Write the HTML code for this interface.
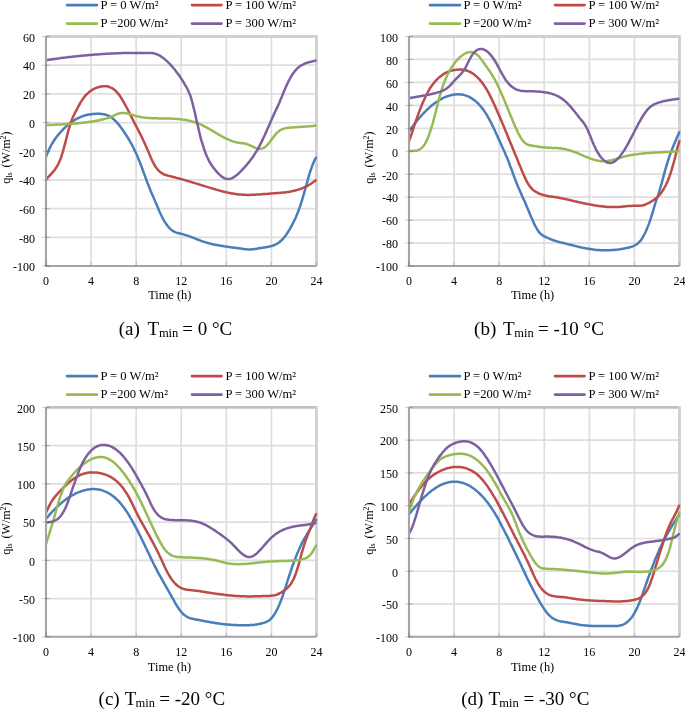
<!DOCTYPE html><html><head><meta charset="utf-8"><style>html,body{margin:0;padding:0;background:#fff;}svg{display:block;will-change:transform;}</style></head><body>
<svg width="685" height="709" viewBox="0 0 685 709" font-family='"Liberation Serif", serif'>
<line x1="46.00" y1="65.19" x2="316.50" y2="65.19" stroke="#dedede" stroke-width="1.7"/>
<line x1="46.00" y1="93.88" x2="316.50" y2="93.88" stroke="#dedede" stroke-width="1.7"/>
<line x1="46.00" y1="122.56" x2="316.50" y2="122.56" stroke="#dedede" stroke-width="1.7"/>
<line x1="46.00" y1="151.25" x2="316.50" y2="151.25" stroke="#dedede" stroke-width="1.7"/>
<line x1="46.00" y1="179.94" x2="316.50" y2="179.94" stroke="#dedede" stroke-width="1.7"/>
<line x1="46.00" y1="208.62" x2="316.50" y2="208.62" stroke="#dedede" stroke-width="1.7"/>
<line x1="46.00" y1="237.31" x2="316.50" y2="237.31" stroke="#dedede" stroke-width="1.7"/>
<line x1="91.08" y1="36.50" x2="91.08" y2="266.00" stroke="#dedede" stroke-width="1.7"/>
<line x1="136.17" y1="36.50" x2="136.17" y2="266.00" stroke="#dedede" stroke-width="1.7"/>
<line x1="181.25" y1="36.50" x2="181.25" y2="266.00" stroke="#dedede" stroke-width="1.7"/>
<line x1="226.33" y1="36.50" x2="226.33" y2="266.00" stroke="#dedede" stroke-width="1.7"/>
<line x1="271.42" y1="36.50" x2="271.42" y2="266.00" stroke="#dedede" stroke-width="1.7"/>
<path d="M46.00,36.50 H316.50" fill="none" stroke="#d0d0d0" stroke-width="2.8"/>
<path d="M316.50,35.10 V266.00" fill="none" stroke="#d0d0d0" stroke-width="2.8"/>
<path d="M46.0,157.0 47.1,154.0 48.3,151.3 49.4,148.8 50.5,146.5 51.6,144.4 52.8,142.5 53.9,140.7 55.0,139.0 56.1,137.5 57.3,136.0 58.4,134.6 59.5,133.3 60.7,132.0 61.8,130.8 62.9,129.6 64.0,128.5 65.2,127.4 66.3,126.3 67.4,125.3 68.5,124.4 69.7,123.4 70.8,122.6 71.9,121.8 73.0,121.0 74.2,120.2 75.3,119.6 76.4,118.9 77.6,118.3 78.7,117.8 79.8,117.3 80.9,116.8 82.1,116.4 83.2,116.0 84.3,115.6 85.4,115.3 86.6,115.0 87.7,114.8 88.8,114.6 90.0,114.4 91.1,114.2 92.2,114.1 93.3,114.0 94.5,113.9 95.6,113.8 96.7,113.8 97.8,113.8 99.0,113.8 100.1,113.8 101.2,113.9 102.4,114.0 103.5,114.2 104.6,114.4 105.7,114.7 106.9,115.1 108.0,115.5 109.1,116.1 110.2,116.7 111.4,117.5 112.5,118.3 113.6,119.2 114.8,120.3 115.9,121.4 117.0,122.6 118.1,123.9 119.3,125.3 120.4,126.8 121.5,128.3 122.6,129.8 123.8,131.5 124.9,133.2 126.0,134.9 127.2,136.7 128.3,138.5 129.4,140.4 130.5,142.4 131.7,144.4 132.8,146.5 133.9,148.8 135.0,151.1 136.2,153.5 137.3,156.1 138.4,158.7 139.5,161.5 140.7,164.4 141.8,167.4 142.9,170.5 144.1,173.6 145.2,176.7 146.3,179.7 147.4,182.7 148.6,185.6 149.7,188.4 150.8,191.2 151.9,193.8 153.1,196.4 154.2,199.1 155.3,201.7 156.5,204.3 157.6,207.0 158.7,209.7 159.8,212.3 161.0,214.7 162.1,217.0 163.2,219.2 164.3,221.1 165.5,222.9 166.6,224.6 167.7,226.0 168.9,227.4 170.0,228.6 171.1,229.6 172.2,230.5 173.4,231.2 174.5,231.8 175.6,232.3 176.7,232.7 177.9,233.0 179.0,233.3 180.1,233.6 181.2,233.8 182.4,234.1 183.5,234.4 184.6,234.7 185.8,235.1 186.9,235.4 188.0,235.8 189.1,236.2 190.3,236.6 191.4,237.1 192.5,237.5 193.6,237.9 194.8,238.4 195.9,238.8 197.0,239.3 198.2,239.7 199.3,240.1 200.4,240.6 201.5,241.0 202.7,241.4 203.8,241.8 204.9,242.1 206.0,242.5 207.2,242.8 208.3,243.1 209.4,243.4 210.6,243.7 211.7,244.0 212.8,244.2 213.9,244.5 215.1,244.7 216.2,244.9 217.3,245.1 218.4,245.3 219.6,245.5 220.7,245.7 221.8,245.9 223.0,246.1 224.1,246.3 225.2,246.4 226.3,246.6 227.5,246.8 228.6,246.9 229.7,247.1 230.8,247.2 232.0,247.4 233.1,247.5 234.2,247.7 235.4,247.8 236.5,248.0 237.6,248.1 238.7,248.3 239.9,248.5 241.0,248.6 242.1,248.8 243.2,249.0 244.4,249.1 245.5,249.2 246.6,249.3 247.7,249.4 248.9,249.4 250.0,249.4 251.1,249.4 252.3,249.3 253.4,249.2 254.5,249.0 255.6,248.9 256.8,248.7 257.9,248.5 259.0,248.3 260.1,248.1 261.3,247.9 262.4,247.8 263.5,247.6 264.7,247.4 265.8,247.3 266.9,247.1 268.0,246.9 269.2,246.6 270.3,246.3 271.4,246.0 272.5,245.7 273.7,245.3 274.8,244.8 275.9,244.3 277.1,243.7 278.2,243.0 279.3,242.2 280.4,241.3 281.6,240.3 282.7,239.2 283.8,237.9 284.9,236.5 286.1,234.9 287.2,233.3 288.3,231.5 289.5,229.6 290.6,227.6 291.7,225.6 292.8,223.5 294.0,221.2 295.1,218.9 296.2,216.4 297.3,213.7 298.5,210.8 299.6,207.7 300.7,204.4 301.8,200.8 303.0,197.0 304.1,193.1 305.2,189.0 306.4,185.0 307.5,180.9 308.6,177.0 309.7,173.2 310.9,169.7 312.0,166.4 313.1,163.5 314.2,160.9 315.4,158.7 316.5,157.0" fill="none" stroke="#4A7EBB" stroke-width="2.5" stroke-linejoin="round" stroke-linecap="butt"/>
<path d="M46.0,179.7 47.1,178.2 48.3,177.0 49.4,175.8 50.5,174.6 51.6,173.5 52.8,172.2 53.9,170.9 55.0,169.5 56.1,167.8 57.3,165.9 58.4,163.8 59.5,161.3 60.7,158.4 61.8,155.1 62.9,151.5 64.0,147.5 65.2,143.2 66.3,138.7 67.4,134.2 68.5,130.1 69.7,126.3 70.8,122.8 71.9,119.6 73.0,116.9 74.2,114.5 75.3,112.3 76.4,110.1 77.6,108.0 78.7,105.8 79.8,103.8 80.9,101.9 82.1,100.1 83.2,98.4 84.3,96.9 85.4,95.6 86.6,94.4 87.7,93.3 88.8,92.3 90.0,91.4 91.1,90.6 92.2,89.9 93.3,89.2 94.5,88.7 95.6,88.2 96.7,87.7 97.8,87.4 99.0,87.0 100.1,86.7 101.2,86.5 102.4,86.3 103.5,86.2 104.6,86.2 105.7,86.2 106.9,86.3 108.0,86.5 109.1,86.8 110.2,87.3 111.4,87.8 112.5,88.4 113.6,89.2 114.8,90.1 115.9,91.1 117.0,92.3 118.1,93.6 119.3,95.1 120.4,96.7 121.5,98.5 122.6,100.3 123.8,102.3 124.9,104.3 126.0,106.4 127.2,108.5 128.3,110.7 129.4,112.9 130.5,115.1 131.7,117.4 132.8,119.6 133.9,121.8 135.0,123.9 136.2,126.1 137.3,128.3 138.4,130.5 139.5,132.7 140.7,134.9 141.8,137.2 142.9,139.6 144.1,142.0 145.2,144.4 146.3,146.9 147.4,149.5 148.6,152.1 149.7,154.8 150.8,157.5 151.9,160.0 153.1,162.4 154.2,164.5 155.3,166.4 156.5,168.0 157.6,169.4 158.7,170.7 159.8,171.7 161.0,172.6 162.1,173.3 163.2,174.0 164.3,174.5 165.5,174.9 166.6,175.3 167.7,175.6 168.9,175.9 170.0,176.1 171.1,176.4 172.2,176.7 173.4,177.0 174.5,177.3 175.6,177.6 176.7,177.9 177.9,178.2 179.0,178.5 180.1,178.8 181.2,179.1 182.4,179.4 183.5,179.7 184.6,180.1 185.8,180.4 186.9,180.7 188.0,181.0 189.1,181.4 190.3,181.7 191.4,182.0 192.5,182.4 193.6,182.7 194.8,183.1 195.9,183.4 197.0,183.8 198.2,184.1 199.3,184.5 200.4,184.8 201.5,185.2 202.7,185.5 203.8,185.9 204.9,186.2 206.0,186.6 207.2,186.9 208.3,187.2 209.4,187.6 210.6,187.9 211.7,188.3 212.8,188.6 213.9,189.0 215.1,189.3 216.2,189.6 217.3,189.9 218.4,190.3 219.6,190.6 220.7,190.9 221.8,191.2 223.0,191.5 224.1,191.7 225.2,192.0 226.3,192.3 227.5,192.5 228.6,192.8 229.7,193.0 230.8,193.2 232.0,193.5 233.1,193.6 234.2,193.8 235.4,194.0 236.5,194.2 237.6,194.3 238.7,194.4 239.9,194.5 241.0,194.6 242.1,194.7 243.2,194.8 244.4,194.8 245.5,194.8 246.6,194.9 247.7,194.9 248.9,194.9 250.0,194.9 251.1,194.8 252.3,194.8 253.4,194.8 254.5,194.7 255.6,194.7 256.8,194.6 257.9,194.5 259.0,194.5 260.1,194.4 261.3,194.3 262.4,194.2 263.5,194.1 264.7,194.1 265.8,194.0 266.9,193.9 268.0,193.8 269.2,193.7 270.3,193.6 271.4,193.5 272.5,193.4 273.7,193.3 274.8,193.3 275.9,193.2 277.1,193.1 278.2,193.0 279.3,192.9 280.4,192.8 281.6,192.7 282.7,192.6 283.8,192.5 284.9,192.4 286.1,192.2 287.2,192.1 288.3,191.9 289.5,191.7 290.6,191.5 291.7,191.3 292.8,191.1 294.0,190.8 295.1,190.5 296.2,190.2 297.3,189.9 298.5,189.6 299.6,189.2 300.7,188.8 301.8,188.4 303.0,187.9 304.1,187.4 305.2,186.9 306.4,186.4 307.5,185.8 308.6,185.1 309.7,184.5 310.9,183.8 312.0,183.0 313.1,182.3 314.2,181.4 315.4,180.6 316.5,179.7" fill="none" stroke="#BE4B48" stroke-width="2.5" stroke-linejoin="round" stroke-linecap="butt"/>
<path d="M46.0,125.1 47.1,125.1 48.3,125.0 49.4,125.0 50.5,124.9 51.6,124.8 52.8,124.8 53.9,124.7 55.0,124.7 56.1,124.6 57.3,124.6 58.4,124.5 59.5,124.4 60.7,124.4 61.8,124.3 62.9,124.3 64.0,124.2 65.2,124.1 66.3,124.1 67.4,124.0 68.5,123.9 69.7,123.9 70.8,123.8 71.9,123.7 73.0,123.6 74.2,123.5 75.3,123.4 76.4,123.4 77.6,123.3 78.7,123.2 79.8,123.0 80.9,122.9 82.1,122.8 83.2,122.7 84.3,122.6 85.4,122.4 86.6,122.3 87.7,122.1 88.8,122.0 90.0,121.8 91.1,121.7 92.2,121.5 93.3,121.3 94.5,121.1 95.6,120.9 96.7,120.7 97.8,120.5 99.0,120.3 100.1,120.0 101.2,119.8 102.4,119.5 103.5,119.2 104.6,118.9 105.7,118.6 106.9,118.3 108.0,117.9 109.1,117.5 110.2,117.1 111.4,116.6 112.5,116.2 113.6,115.7 114.8,115.1 115.9,114.6 117.0,114.2 118.1,113.7 119.3,113.4 120.4,113.2 121.5,113.0 122.6,112.9 123.8,112.9 124.9,113.0 126.0,113.2 127.2,113.4 128.3,113.7 129.4,113.9 130.5,114.3 131.7,114.6 132.8,115.0 133.9,115.3 135.0,115.7 136.2,116.0 137.3,116.3 138.4,116.6 139.5,116.8 140.7,117.0 141.8,117.2 142.9,117.4 144.1,117.5 145.2,117.7 146.3,117.8 147.4,117.9 148.6,118.0 149.7,118.0 150.8,118.1 151.9,118.2 153.1,118.2 154.2,118.3 155.3,118.3 156.5,118.3 157.6,118.3 158.7,118.4 159.8,118.4 161.0,118.4 162.1,118.4 163.2,118.4 164.3,118.5 165.5,118.5 166.6,118.5 167.7,118.5 168.9,118.6 170.0,118.6 171.1,118.6 172.2,118.7 173.4,118.7 174.5,118.8 175.6,118.9 176.7,118.9 177.9,119.0 179.0,119.1 180.1,119.2 181.2,119.4 182.4,119.5 183.5,119.7 184.6,119.8 185.8,120.0 186.9,120.2 188.0,120.5 189.1,120.7 190.3,121.0 191.4,121.3 192.5,121.6 193.6,121.9 194.8,122.3 195.9,122.6 197.0,123.0 198.2,123.5 199.3,123.9 200.4,124.4 201.5,124.9 202.7,125.5 203.8,126.0 204.9,126.6 206.0,127.2 207.2,127.8 208.3,128.4 209.4,129.1 210.6,129.7 211.7,130.4 212.8,131.1 213.9,131.7 215.1,132.4 216.2,133.1 217.3,133.8 218.4,134.4 219.6,135.1 220.7,135.7 221.8,136.3 223.0,137.0 224.1,137.5 225.2,138.1 226.3,138.7 227.5,139.2 228.6,139.7 229.7,140.2 230.8,140.6 232.0,141.1 233.1,141.4 234.2,141.8 235.4,142.1 236.5,142.4 237.6,142.6 238.7,142.8 239.9,142.9 241.0,143.0 242.1,143.2 243.2,143.3 244.4,143.5 245.5,143.7 246.6,144.0 247.7,144.4 248.9,144.9 250.0,145.4 251.1,145.9 252.3,146.5 253.4,147.0 254.5,147.5 255.6,147.9 256.8,148.3 257.9,148.6 259.0,148.8 260.1,148.8 261.3,148.7 262.4,148.4 263.5,148.0 264.7,147.4 265.8,146.5 266.9,145.4 268.0,144.2 269.2,142.8 270.3,141.3 271.4,139.7 272.5,138.2 273.7,136.7 274.8,135.2 275.9,133.9 277.1,132.7 278.2,131.7 279.3,130.9 280.4,130.1 281.6,129.5 282.7,129.1 283.8,128.7 284.9,128.4 286.1,128.1 287.2,127.9 288.3,127.8 289.5,127.7 290.6,127.6 291.7,127.5 292.8,127.4 294.0,127.3 295.1,127.2 296.2,127.2 297.3,127.1 298.5,127.0 299.6,127.0 300.7,126.9 301.8,126.8 303.0,126.8 304.1,126.7 305.2,126.6 306.4,126.6 307.5,126.5 308.6,126.4 309.7,126.3 310.9,126.2 312.0,126.0 313.1,125.9 314.2,125.8 315.4,125.6 316.5,125.4" fill="none" stroke="#98B954" stroke-width="2.5" stroke-linejoin="round" stroke-linecap="butt"/>
<path d="M46.0,60.2 47.1,60.0 48.3,59.8 49.4,59.7 50.5,59.5 51.6,59.3 52.8,59.2 53.9,59.0 55.0,58.9 56.1,58.7 57.3,58.6 58.4,58.4 59.5,58.3 60.7,58.1 61.8,58.0 62.9,57.8 64.0,57.7 65.2,57.6 66.3,57.4 67.4,57.3 68.5,57.1 69.7,57.0 70.8,56.9 71.9,56.8 73.0,56.6 74.2,56.5 75.3,56.4 76.4,56.3 77.6,56.1 78.7,56.0 79.8,55.9 80.9,55.8 82.1,55.7 83.2,55.6 84.3,55.5 85.4,55.4 86.6,55.3 87.7,55.2 88.8,55.1 90.0,55.0 91.1,54.9 92.2,54.8 93.3,54.7 94.5,54.6 95.6,54.5 96.7,54.4 97.8,54.4 99.0,54.3 100.1,54.2 101.2,54.1 102.4,54.1 103.5,54.0 104.6,53.9 105.7,53.8 106.9,53.8 108.0,53.7 109.1,53.7 110.2,53.6 111.4,53.5 112.5,53.5 113.6,53.4 114.8,53.4 115.9,53.3 117.0,53.3 118.1,53.3 119.3,53.2 120.4,53.2 121.5,53.1 122.6,53.1 123.8,53.1 124.9,53.1 126.0,53.0 127.2,53.0 128.3,53.0 129.4,53.0 130.5,53.0 131.7,52.9 132.8,52.9 133.9,52.9 135.0,52.9 136.2,52.9 137.3,52.9 138.4,52.9 139.5,52.9 140.7,52.9 141.8,52.9 142.9,52.9 144.1,52.9 145.2,52.9 146.3,52.9 147.4,52.9 148.6,52.9 149.7,52.9 150.8,53.0 151.9,53.1 153.1,53.2 154.2,53.4 155.3,53.7 156.5,54.1 157.6,54.6 158.7,55.1 159.8,55.7 161.0,56.4 162.1,57.2 163.2,58.0 164.3,58.9 165.5,59.9 166.6,60.9 167.7,61.9 168.9,63.1 170.0,64.2 171.1,65.4 172.2,66.7 173.4,68.0 174.5,69.3 175.6,70.7 176.7,72.2 177.9,73.7 179.0,75.3 180.1,76.9 181.2,78.6 182.4,80.4 183.5,82.2 184.6,84.1 185.8,86.0 186.9,88.0 188.0,90.2 189.1,92.7 190.3,95.6 191.4,99.1 192.5,103.1 193.6,107.5 194.8,112.3 195.9,117.4 197.0,122.4 198.2,127.4 199.3,132.2 200.4,136.7 201.5,140.9 202.7,144.7 203.8,148.2 204.9,151.4 206.0,154.4 207.2,157.0 208.3,159.4 209.4,161.6 210.6,163.5 211.7,165.2 212.8,166.8 213.9,168.3 215.1,169.8 216.2,171.1 217.3,172.4 218.4,173.6 219.6,174.7 220.7,175.7 221.8,176.6 223.0,177.4 224.1,178.0 225.2,178.5 226.3,178.8 227.5,179.0 228.6,179.0 229.7,178.9 230.8,178.6 232.0,178.2 233.1,177.6 234.2,176.9 235.4,176.1 236.5,175.3 237.6,174.3 238.7,173.3 239.9,172.2 241.0,171.1 242.1,169.9 243.2,168.7 244.4,167.5 245.5,166.2 246.6,165.0 247.7,163.6 248.9,162.2 250.0,160.8 251.1,159.3 252.3,157.8 253.4,156.1 254.5,154.4 255.6,152.6 256.8,150.8 257.9,148.8 259.0,146.8 260.1,144.6 261.3,142.4 262.4,140.1 263.5,137.7 264.7,135.3 265.8,132.8 266.9,130.2 268.0,127.6 269.2,125.1 270.3,122.5 271.4,119.9 272.5,117.4 273.7,114.9 274.8,112.5 275.9,110.1 277.1,107.6 278.2,105.2 279.3,102.7 280.4,100.0 281.6,97.3 282.7,94.6 283.8,91.8 284.9,89.2 286.1,86.6 287.2,84.1 288.3,81.7 289.5,79.5 290.6,77.4 291.7,75.5 292.8,73.8 294.0,72.2 295.1,70.8 296.2,69.6 297.3,68.4 298.5,67.4 299.6,66.5 300.7,65.8 301.8,65.1 303.0,64.5 304.1,63.9 305.2,63.4 306.4,63.0 307.5,62.7 308.6,62.3 309.7,62.0 310.9,61.8 312.0,61.5 313.1,61.2 314.2,60.9 315.4,60.6 316.5,60.3" fill="none" stroke="#7D60A0" stroke-width="2.5" stroke-linejoin="round" stroke-linecap="butt"/>
<path d="M46.00,36.50 V266.00 H316.50" fill="none" stroke="#a4a4a4" stroke-width="2.1"/>
<line x1="42.00" y1="36.50" x2="50.00" y2="36.50" stroke="#000" stroke-opacity="0.2" stroke-width="1"/>
<text x="35.00" y="41.80" font-size="12" text-anchor="end" fill="#000">60</text>
<line x1="42.00" y1="65.19" x2="50.00" y2="65.19" stroke="#000" stroke-opacity="0.2" stroke-width="1"/>
<text x="35.00" y="70.49" font-size="12" text-anchor="end" fill="#000">40</text>
<line x1="42.00" y1="93.88" x2="50.00" y2="93.88" stroke="#000" stroke-opacity="0.2" stroke-width="1"/>
<text x="35.00" y="99.17" font-size="12" text-anchor="end" fill="#000">20</text>
<line x1="42.00" y1="122.56" x2="50.00" y2="122.56" stroke="#000" stroke-opacity="0.2" stroke-width="1"/>
<text x="35.00" y="127.86" font-size="12" text-anchor="end" fill="#000">0</text>
<line x1="42.00" y1="151.25" x2="50.00" y2="151.25" stroke="#000" stroke-opacity="0.2" stroke-width="1"/>
<text x="35.00" y="156.55" font-size="12" text-anchor="end" fill="#000">-20</text>
<line x1="42.00" y1="179.94" x2="50.00" y2="179.94" stroke="#000" stroke-opacity="0.2" stroke-width="1"/>
<text x="35.00" y="185.24" font-size="12" text-anchor="end" fill="#000">-40</text>
<line x1="42.00" y1="208.62" x2="50.00" y2="208.62" stroke="#000" stroke-opacity="0.2" stroke-width="1"/>
<text x="35.00" y="213.93" font-size="12" text-anchor="end" fill="#000">-60</text>
<line x1="42.00" y1="237.31" x2="50.00" y2="237.31" stroke="#000" stroke-opacity="0.2" stroke-width="1"/>
<text x="35.00" y="242.61" font-size="12" text-anchor="end" fill="#000">-80</text>
<line x1="42.00" y1="266.00" x2="50.00" y2="266.00" stroke="#000" stroke-opacity="0.2" stroke-width="1"/>
<text x="35.00" y="271.30" font-size="12" text-anchor="end" fill="#000">-100</text>
<line x1="46.00" y1="262.00" x2="46.00" y2="266.00" stroke="#000" stroke-opacity="0.12" stroke-width="1.5"/>
<text x="46.00" y="284.70" font-size="12" text-anchor="middle" fill="#000">0</text>
<line x1="91.08" y1="262.00" x2="91.08" y2="266.00" stroke="#000" stroke-opacity="0.12" stroke-width="1.5"/>
<text x="91.08" y="284.70" font-size="12" text-anchor="middle" fill="#000">4</text>
<line x1="136.17" y1="262.00" x2="136.17" y2="266.00" stroke="#000" stroke-opacity="0.12" stroke-width="1.5"/>
<text x="136.17" y="284.70" font-size="12" text-anchor="middle" fill="#000">8</text>
<line x1="181.25" y1="262.00" x2="181.25" y2="266.00" stroke="#000" stroke-opacity="0.12" stroke-width="1.5"/>
<text x="181.25" y="284.70" font-size="12" text-anchor="middle" fill="#000">12</text>
<line x1="226.33" y1="262.00" x2="226.33" y2="266.00" stroke="#000" stroke-opacity="0.12" stroke-width="1.5"/>
<text x="226.33" y="284.70" font-size="12" text-anchor="middle" fill="#000">16</text>
<line x1="271.42" y1="262.00" x2="271.42" y2="266.00" stroke="#000" stroke-opacity="0.12" stroke-width="1.5"/>
<text x="271.42" y="284.70" font-size="12" text-anchor="middle" fill="#000">20</text>
<line x1="316.50" y1="262.00" x2="316.50" y2="266.00" stroke="#000" stroke-opacity="0.12" stroke-width="1.5"/>
<text x="316.50" y="284.70" font-size="12" text-anchor="middle" fill="#000">24</text>
<line x1="409.00" y1="59.45" x2="679.50" y2="59.45" stroke="#dedede" stroke-width="1.7"/>
<line x1="409.00" y1="82.40" x2="679.50" y2="82.40" stroke="#dedede" stroke-width="1.7"/>
<line x1="409.00" y1="105.35" x2="679.50" y2="105.35" stroke="#dedede" stroke-width="1.7"/>
<line x1="409.00" y1="128.30" x2="679.50" y2="128.30" stroke="#dedede" stroke-width="1.7"/>
<line x1="409.00" y1="151.25" x2="679.50" y2="151.25" stroke="#dedede" stroke-width="1.7"/>
<line x1="409.00" y1="174.20" x2="679.50" y2="174.20" stroke="#dedede" stroke-width="1.7"/>
<line x1="409.00" y1="197.15" x2="679.50" y2="197.15" stroke="#dedede" stroke-width="1.7"/>
<line x1="409.00" y1="220.10" x2="679.50" y2="220.10" stroke="#dedede" stroke-width="1.7"/>
<line x1="409.00" y1="243.05" x2="679.50" y2="243.05" stroke="#dedede" stroke-width="1.7"/>
<line x1="454.08" y1="36.50" x2="454.08" y2="266.00" stroke="#dedede" stroke-width="1.7"/>
<line x1="499.17" y1="36.50" x2="499.17" y2="266.00" stroke="#dedede" stroke-width="1.7"/>
<line x1="544.25" y1="36.50" x2="544.25" y2="266.00" stroke="#dedede" stroke-width="1.7"/>
<line x1="589.33" y1="36.50" x2="589.33" y2="266.00" stroke="#dedede" stroke-width="1.7"/>
<line x1="634.42" y1="36.50" x2="634.42" y2="266.00" stroke="#dedede" stroke-width="1.7"/>
<path d="M409.00,36.50 H679.50" fill="none" stroke="#d0d0d0" stroke-width="2.8"/>
<path d="M679.50,35.10 V266.00" fill="none" stroke="#d0d0d0" stroke-width="2.8"/>
<path d="M409.0,131.4 410.1,129.8 411.3,128.2 412.4,126.7 413.5,125.2 414.6,123.7 415.8,122.3 416.9,120.9 418.0,119.5 419.1,118.2 420.3,116.9 421.4,115.6 422.5,114.3 423.7,113.1 424.8,112.0 425.9,110.8 427.0,109.7 428.2,108.7 429.3,107.6 430.4,106.7 431.5,105.7 432.7,104.8 433.8,103.9 434.9,103.1 436.1,102.2 437.2,101.5 438.3,100.7 439.4,100.0 440.6,99.4 441.7,98.8 442.8,98.2 443.9,97.7 445.1,97.2 446.2,96.7 447.3,96.3 448.4,95.9 449.6,95.6 450.7,95.3 451.8,95.0 453.0,94.8 454.1,94.6 455.2,94.5 456.3,94.4 457.5,94.3 458.6,94.3 459.7,94.4 460.8,94.5 462.0,94.6 463.1,94.8 464.2,95.1 465.4,95.4 466.5,95.8 467.6,96.2 468.7,96.7 469.9,97.3 471.0,97.9 472.1,98.6 473.2,99.4 474.4,100.2 475.5,101.1 476.6,102.1 477.8,103.2 478.9,104.4 480.0,105.6 481.1,106.9 482.3,108.3 483.4,109.8 484.5,111.4 485.6,113.1 486.8,114.9 487.9,116.8 489.0,118.8 490.1,120.9 491.3,123.1 492.4,125.4 493.5,127.8 494.7,130.2 495.8,132.7 496.9,135.1 498.0,137.6 499.2,140.1 500.3,142.6 501.4,145.1 502.5,147.6 503.7,150.0 504.8,152.6 505.9,155.2 507.1,157.8 508.2,160.6 509.3,163.5 510.4,166.6 511.6,169.6 512.7,172.7 513.8,175.8 514.9,178.8 516.1,181.8 517.2,184.6 518.3,187.3 519.5,190.0 520.6,192.6 521.7,195.1 522.8,197.6 524.0,200.1 525.1,202.6 526.2,205.2 527.3,207.8 528.5,210.5 529.6,213.2 530.7,215.9 531.9,218.5 533.0,221.1 534.1,223.6 535.2,225.9 536.4,228.0 537.5,229.9 538.6,231.6 539.7,232.9 540.9,234.0 542.0,234.9 543.1,235.7 544.2,236.3 545.4,236.8 546.5,237.4 547.6,237.9 548.8,238.4 549.9,238.9 551.0,239.3 552.1,239.8 553.3,240.2 554.4,240.5 555.5,240.9 556.6,241.2 557.8,241.6 558.9,241.9 560.0,242.2 561.2,242.4 562.3,242.7 563.4,243.0 564.5,243.3 565.7,243.6 566.8,243.9 567.9,244.2 569.0,244.4 570.2,244.7 571.3,245.0 572.4,245.3 573.6,245.6 574.7,245.9 575.8,246.1 576.9,246.4 578.1,246.7 579.2,246.9 580.3,247.2 581.4,247.4 582.6,247.7 583.7,247.9 584.8,248.1 586.0,248.4 587.1,248.6 588.2,248.8 589.3,249.0 590.5,249.1 591.6,249.3 592.7,249.5 593.8,249.6 595.0,249.8 596.1,249.9 597.2,250.0 598.4,250.1 599.5,250.1 600.6,250.2 601.7,250.3 602.9,250.3 604.0,250.3 605.1,250.3 606.2,250.3 607.4,250.3 608.5,250.3 609.6,250.3 610.7,250.2 611.9,250.1 613.0,250.1 614.1,250.0 615.3,249.8 616.4,249.7 617.5,249.6 618.6,249.4 619.8,249.3 620.9,249.1 622.0,248.9 623.1,248.7 624.3,248.5 625.4,248.3 626.5,248.0 627.7,247.8 628.8,247.5 629.9,247.2 631.0,246.9 632.2,246.5 633.3,246.1 634.4,245.6 635.5,245.0 636.7,244.3 637.8,243.4 638.9,242.4 640.1,241.2 641.2,239.7 642.3,238.0 643.4,236.2 644.6,234.0 645.7,231.7 646.8,229.1 647.9,226.4 649.1,223.4 650.2,220.1 651.3,216.7 652.5,213.0 653.6,209.1 654.7,205.3 655.8,201.6 657.0,198.3 658.1,195.1 659.2,191.6 660.3,187.8 661.5,183.9 662.6,179.7 663.7,175.6 664.8,171.4 666.0,167.4 667.1,163.6 668.2,160.0 669.4,156.6 670.5,153.4 671.6,150.4 672.7,147.6 673.9,144.8 675.0,142.2 676.1,139.5 677.2,136.9 678.4,134.2 679.5,131.4" fill="none" stroke="#4A7EBB" stroke-width="2.5" stroke-linejoin="round" stroke-linecap="butt"/>
<path d="M409.0,141.3 410.1,138.1 411.3,134.8 412.4,131.4 413.5,128.0 414.6,124.6 415.8,121.3 416.9,118.1 418.0,114.9 419.1,111.9 420.3,108.9 421.4,106.1 422.5,103.3 423.7,100.7 424.8,98.2 425.9,95.8 427.0,93.6 428.2,91.5 429.3,89.5 430.4,87.7 431.5,86.0 432.7,84.5 433.8,83.0 434.9,81.7 436.1,80.4 437.2,79.3 438.3,78.2 439.4,77.2 440.6,76.2 441.7,75.4 442.8,74.6 443.9,73.9 445.1,73.2 446.2,72.6 447.3,72.1 448.4,71.6 449.6,71.2 450.7,70.9 451.8,70.6 453.0,70.3 454.1,70.1 455.2,69.9 456.3,69.8 457.5,69.7 458.6,69.6 459.7,69.6 460.8,69.6 462.0,69.7 463.1,69.8 464.2,70.0 465.4,70.2 466.5,70.5 467.6,70.9 468.7,71.3 469.9,71.8 471.0,72.4 472.1,73.1 473.2,73.8 474.4,74.6 475.5,75.6 476.6,76.6 477.8,77.6 478.9,78.8 480.0,80.1 481.1,81.4 482.3,82.9 483.4,84.4 484.5,86.1 485.6,87.8 486.8,89.7 487.9,91.6 489.0,93.7 490.1,95.9 491.3,98.2 492.4,100.6 493.5,103.0 494.7,105.5 495.8,108.0 496.9,110.5 498.0,113.0 499.2,115.6 500.3,118.2 501.4,120.8 502.5,123.5 503.7,126.2 504.8,129.0 505.9,131.7 507.1,134.5 508.2,137.2 509.3,140.0 510.4,142.7 511.6,145.5 512.7,148.2 513.8,150.9 514.9,153.7 516.1,156.4 517.2,159.1 518.3,161.9 519.5,164.7 520.6,167.4 521.7,170.2 522.8,172.8 524.0,175.4 525.1,177.9 526.2,180.2 527.3,182.4 528.5,184.3 529.6,186.0 530.7,187.5 531.9,188.7 533.0,189.8 534.1,190.7 535.2,191.4 536.4,192.1 537.5,192.7 538.6,193.3 539.7,193.8 540.9,194.2 542.0,194.6 543.1,195.0 544.2,195.3 545.4,195.5 546.5,195.8 547.6,196.0 548.8,196.2 549.9,196.4 551.0,196.5 552.1,196.7 553.3,196.8 554.4,197.0 555.5,197.2 556.6,197.3 557.8,197.5 558.9,197.7 560.0,197.9 561.2,198.2 562.3,198.4 563.4,198.6 564.5,198.9 565.7,199.1 566.8,199.4 567.9,199.6 569.0,199.9 570.2,200.1 571.3,200.4 572.4,200.7 573.6,200.9 574.7,201.2 575.8,201.4 576.9,201.7 578.1,202.0 579.2,202.2 580.3,202.5 581.4,202.7 582.6,203.0 583.7,203.2 584.8,203.4 586.0,203.7 587.1,203.9 588.2,204.1 589.3,204.4 590.5,204.6 591.6,204.8 592.7,205.0 593.8,205.2 595.0,205.4 596.1,205.6 597.2,205.7 598.4,205.9 599.5,206.1 600.6,206.2 601.7,206.3 602.9,206.5 604.0,206.6 605.1,206.7 606.2,206.8 607.4,206.9 608.5,206.9 609.6,207.0 610.7,207.0 611.9,207.1 613.0,207.1 614.1,207.1 615.3,207.1 616.4,207.1 617.5,207.0 618.6,207.0 619.8,206.9 620.9,206.8 622.0,206.7 623.1,206.6 624.3,206.5 625.4,206.3 626.5,206.2 627.7,206.1 628.8,206.0 629.9,205.9 631.0,205.9 632.2,205.8 633.3,205.8 634.4,205.8 635.5,205.8 636.7,205.8 637.8,205.8 638.9,205.8 640.1,205.7 641.2,205.6 642.3,205.4 643.4,205.2 644.6,204.8 645.7,204.4 646.8,203.9 647.9,203.4 649.1,202.8 650.2,202.1 651.3,201.5 652.5,200.8 653.6,200.0 654.7,199.2 655.8,198.4 657.0,197.4 658.1,196.4 659.2,195.2 660.3,193.9 661.5,192.4 662.6,190.8 663.7,189.0 664.8,187.0 666.0,184.8 667.1,182.4 668.2,179.7 669.4,176.7 670.5,173.5 671.6,170.0 672.7,166.2 673.9,162.0 675.0,157.7 676.1,153.2 677.2,148.7 678.4,144.4 679.5,140.3" fill="none" stroke="#BE4B48" stroke-width="2.5" stroke-linejoin="round" stroke-linecap="butt"/>
<path d="M409.0,151.1 410.1,151.0 411.3,150.9 412.4,150.9 413.5,150.8 414.6,150.8 415.8,150.7 416.9,150.5 418.0,150.1 419.1,149.7 420.3,149.0 421.4,148.2 422.5,147.1 423.7,145.7 424.8,144.1 425.9,142.1 427.0,139.8 428.2,137.1 429.3,134.2 430.4,130.9 431.5,127.4 432.7,123.5 433.8,119.3 434.9,115.0 436.1,110.6 437.2,106.2 438.3,101.8 439.4,97.5 440.6,93.4 441.7,89.6 442.8,86.2 443.9,83.0 445.1,80.2 446.2,77.6 447.3,75.2 448.4,73.0 449.6,70.9 450.7,69.0 451.8,67.1 453.0,65.4 454.1,63.8 455.2,62.3 456.3,60.9 457.5,59.6 458.6,58.5 459.7,57.4 460.8,56.4 462.0,55.5 463.1,54.7 464.2,54.0 465.4,53.4 466.5,52.9 467.6,52.5 468.7,52.2 469.9,52.1 471.0,52.1 472.1,52.2 473.2,52.5 474.4,52.9 475.5,53.6 476.6,54.4 477.8,55.4 478.9,56.5 480.0,57.8 481.1,59.2 482.3,60.7 483.4,62.2 484.5,63.8 485.6,65.4 486.8,67.0 487.9,68.6 489.0,70.2 490.1,71.9 491.3,73.6 492.4,75.5 493.5,77.4 494.7,79.4 495.8,81.5 496.9,83.7 498.0,86.0 499.2,88.4 500.3,90.9 501.4,93.4 502.5,96.0 503.7,98.6 504.8,101.4 505.9,104.1 507.1,106.9 508.2,109.6 509.3,112.4 510.4,115.2 511.6,117.9 512.7,120.7 513.8,123.3 514.9,126.0 516.1,128.5 517.2,131.0 518.3,133.3 519.5,135.5 520.6,137.4 521.7,139.2 522.8,140.7 524.0,141.9 525.1,143.0 526.2,143.8 527.3,144.5 528.5,144.9 529.6,145.3 530.7,145.5 531.9,145.7 533.0,145.8 534.1,146.0 535.2,146.2 536.4,146.3 537.5,146.5 538.6,146.7 539.7,146.9 540.9,147.0 542.0,147.2 543.1,147.3 544.2,147.5 545.4,147.6 546.5,147.6 547.6,147.7 548.8,147.8 549.9,147.8 551.0,147.8 552.1,147.9 553.3,147.9 554.4,147.9 555.5,148.0 556.6,148.0 557.8,148.1 558.9,148.2 560.0,148.3 561.2,148.5 562.3,148.7 563.4,148.9 564.5,149.1 565.7,149.3 566.8,149.6 567.9,149.9 569.0,150.2 570.2,150.5 571.3,150.9 572.4,151.3 573.6,151.7 574.7,152.1 575.8,152.5 576.9,152.9 578.1,153.4 579.2,153.9 580.3,154.4 581.4,154.8 582.6,155.3 583.7,155.8 584.8,156.3 586.0,156.8 587.1,157.2 588.2,157.7 589.3,158.1 590.5,158.6 591.6,159.0 592.7,159.3 593.8,159.7 595.0,160.0 596.1,160.3 597.2,160.6 598.4,160.8 599.5,161.0 600.6,161.2 601.7,161.3 602.9,161.3 604.0,161.3 605.1,161.3 606.2,161.2 607.4,161.0 608.5,160.8 609.6,160.6 610.7,160.4 611.9,160.1 613.0,159.8 614.1,159.5 615.3,159.2 616.4,158.8 617.5,158.5 618.6,158.2 619.8,157.8 620.9,157.5 622.0,157.2 623.1,156.9 624.3,156.6 625.4,156.3 626.5,156.0 627.7,155.8 628.8,155.6 629.9,155.3 631.0,155.1 632.2,154.9 633.3,154.7 634.4,154.6 635.5,154.4 636.7,154.2 637.8,154.1 638.9,153.9 640.1,153.8 641.2,153.7 642.3,153.6 643.4,153.4 644.6,153.3 645.7,153.2 646.8,153.1 647.9,153.1 649.1,153.0 650.2,152.9 651.3,152.8 652.5,152.8 653.6,152.7 654.7,152.6 655.8,152.6 657.0,152.5 658.1,152.5 659.2,152.4 660.3,152.3 661.5,152.3 662.6,152.2 663.7,152.2 664.8,152.1 666.0,152.1 667.1,152.0 668.2,151.9 669.4,151.9 670.5,151.8 671.6,151.8 672.7,151.7 673.9,151.6 675.0,151.5 676.1,151.4 677.2,151.3 678.4,151.2 679.5,151.1" fill="none" stroke="#98B954" stroke-width="2.5" stroke-linejoin="round" stroke-linecap="butt"/>
<path d="M409.0,98.2 410.1,98.0 411.3,97.8 412.4,97.6 413.5,97.4 414.6,97.2 415.8,97.0 416.9,96.8 418.0,96.6 419.1,96.4 420.3,96.2 421.4,96.0 422.5,95.8 423.7,95.6 424.8,95.4 425.9,95.2 427.0,95.0 428.2,94.7 429.3,94.5 430.4,94.3 431.5,94.0 432.7,93.8 433.8,93.5 434.9,93.2 436.1,92.9 437.2,92.6 438.3,92.3 439.4,91.9 440.6,91.6 441.7,91.1 442.8,90.6 443.9,90.1 445.1,89.5 446.2,88.7 447.3,87.9 448.4,87.0 449.6,86.0 450.7,84.9 451.8,83.6 453.0,82.3 454.1,81.0 455.2,79.8 456.3,78.6 457.5,77.5 458.6,76.4 459.7,75.3 460.8,74.1 462.0,72.8 463.1,71.3 464.2,69.7 465.4,67.8 466.5,65.7 467.6,63.5 468.7,61.2 469.9,59.0 471.0,56.9 472.1,55.1 473.2,53.6 474.4,52.3 475.5,51.2 476.6,50.3 477.8,49.7 478.9,49.3 480.0,49.0 481.1,49.0 482.3,49.1 483.4,49.3 484.5,49.8 485.6,50.4 486.8,51.2 487.9,52.1 489.0,53.2 490.1,54.4 491.3,55.7 492.4,57.2 493.5,58.8 494.7,60.5 495.8,62.4 496.9,64.4 498.0,66.4 499.2,68.5 500.3,70.6 501.4,72.6 502.5,74.7 503.7,76.6 504.8,78.5 505.9,80.2 507.1,81.7 508.2,83.1 509.3,84.4 510.4,85.5 511.6,86.5 512.7,87.3 513.8,88.1 514.9,88.7 516.1,89.3 517.2,89.8 518.3,90.1 519.5,90.4 520.6,90.7 521.7,90.9 522.8,91.0 524.0,91.1 525.1,91.2 526.2,91.2 527.3,91.2 528.5,91.2 529.6,91.2 530.7,91.2 531.9,91.3 533.0,91.3 534.1,91.3 535.2,91.4 536.4,91.4 537.5,91.5 538.6,91.6 539.7,91.7 540.9,91.8 542.0,91.9 543.1,92.0 544.2,92.2 545.4,92.4 546.5,92.6 547.6,92.8 548.8,93.0 549.9,93.3 551.0,93.6 552.1,93.9 553.3,94.3 554.4,94.7 555.5,95.1 556.6,95.6 557.8,96.1 558.9,96.7 560.0,97.4 561.2,98.1 562.3,98.9 563.4,99.7 564.5,100.6 565.7,101.6 566.8,102.7 567.9,103.8 569.0,105.0 570.2,106.2 571.3,107.6 572.4,108.9 573.6,110.3 574.7,111.7 575.8,113.1 576.9,114.5 578.1,115.9 579.2,117.4 580.3,118.8 581.4,120.1 582.6,121.5 583.7,123.0 584.8,124.6 586.0,126.5 587.1,128.6 588.2,131.1 589.3,133.8 590.5,136.6 591.6,139.4 592.7,142.2 593.8,144.8 595.0,147.3 596.1,149.6 597.2,151.6 598.4,153.5 599.5,155.2 600.6,156.8 601.7,158.2 602.9,159.4 604.0,160.4 605.1,161.3 606.2,162.0 607.4,162.5 608.5,162.8 609.6,163.0 610.7,162.9 611.9,162.7 613.0,162.3 614.1,161.7 615.3,160.9 616.4,160.0 617.5,159.0 618.6,157.8 619.8,156.5 620.9,155.1 622.0,153.6 623.1,151.9 624.3,150.2 625.4,148.3 626.5,146.4 627.7,144.4 628.8,142.3 629.9,140.2 631.0,138.1 632.2,135.9 633.3,133.7 634.4,131.5 635.5,129.3 636.7,127.1 637.8,125.0 638.9,122.9 640.1,120.8 641.2,118.9 642.3,117.0 643.4,115.2 644.6,113.5 645.7,111.9 646.8,110.4 647.9,109.1 649.1,108.0 650.2,107.0 651.3,106.1 652.5,105.3 653.6,104.7 654.7,104.1 655.8,103.7 657.0,103.2 658.1,102.8 659.2,102.4 660.3,102.1 661.5,101.7 662.6,101.4 663.7,101.1 664.8,100.9 666.0,100.7 667.1,100.4 668.2,100.2 669.4,100.0 670.5,99.9 671.6,99.7 672.7,99.5 673.9,99.4 675.0,99.2 676.1,99.1 677.2,99.0 678.4,98.8 679.5,98.7" fill="none" stroke="#7D60A0" stroke-width="2.5" stroke-linejoin="round" stroke-linecap="butt"/>
<path d="M409.00,36.50 V266.00 H679.50" fill="none" stroke="#a4a4a4" stroke-width="2.1"/>
<line x1="405.00" y1="36.50" x2="413.00" y2="36.50" stroke="#000" stroke-opacity="0.2" stroke-width="1"/>
<text x="398.00" y="41.80" font-size="12" text-anchor="end" fill="#000">100</text>
<line x1="405.00" y1="59.45" x2="413.00" y2="59.45" stroke="#000" stroke-opacity="0.2" stroke-width="1"/>
<text x="398.00" y="64.75" font-size="12" text-anchor="end" fill="#000">80</text>
<line x1="405.00" y1="82.40" x2="413.00" y2="82.40" stroke="#000" stroke-opacity="0.2" stroke-width="1"/>
<text x="398.00" y="87.70" font-size="12" text-anchor="end" fill="#000">60</text>
<line x1="405.00" y1="105.35" x2="413.00" y2="105.35" stroke="#000" stroke-opacity="0.2" stroke-width="1"/>
<text x="398.00" y="110.65" font-size="12" text-anchor="end" fill="#000">40</text>
<line x1="405.00" y1="128.30" x2="413.00" y2="128.30" stroke="#000" stroke-opacity="0.2" stroke-width="1"/>
<text x="398.00" y="133.60" font-size="12" text-anchor="end" fill="#000">20</text>
<line x1="405.00" y1="151.25" x2="413.00" y2="151.25" stroke="#000" stroke-opacity="0.2" stroke-width="1"/>
<text x="398.00" y="156.55" font-size="12" text-anchor="end" fill="#000">0</text>
<line x1="405.00" y1="174.20" x2="413.00" y2="174.20" stroke="#000" stroke-opacity="0.2" stroke-width="1"/>
<text x="398.00" y="179.50" font-size="12" text-anchor="end" fill="#000">-20</text>
<line x1="405.00" y1="197.15" x2="413.00" y2="197.15" stroke="#000" stroke-opacity="0.2" stroke-width="1"/>
<text x="398.00" y="202.45" font-size="12" text-anchor="end" fill="#000">-40</text>
<line x1="405.00" y1="220.10" x2="413.00" y2="220.10" stroke="#000" stroke-opacity="0.2" stroke-width="1"/>
<text x="398.00" y="225.40" font-size="12" text-anchor="end" fill="#000">-60</text>
<line x1="405.00" y1="243.05" x2="413.00" y2="243.05" stroke="#000" stroke-opacity="0.2" stroke-width="1"/>
<text x="398.00" y="248.35" font-size="12" text-anchor="end" fill="#000">-80</text>
<line x1="405.00" y1="266.00" x2="413.00" y2="266.00" stroke="#000" stroke-opacity="0.2" stroke-width="1"/>
<text x="398.00" y="271.30" font-size="12" text-anchor="end" fill="#000">-100</text>
<line x1="409.00" y1="262.00" x2="409.00" y2="266.00" stroke="#000" stroke-opacity="0.12" stroke-width="1.5"/>
<text x="409.00" y="284.70" font-size="12" text-anchor="middle" fill="#000">0</text>
<line x1="454.08" y1="262.00" x2="454.08" y2="266.00" stroke="#000" stroke-opacity="0.12" stroke-width="1.5"/>
<text x="454.08" y="284.70" font-size="12" text-anchor="middle" fill="#000">4</text>
<line x1="499.17" y1="262.00" x2="499.17" y2="266.00" stroke="#000" stroke-opacity="0.12" stroke-width="1.5"/>
<text x="499.17" y="284.70" font-size="12" text-anchor="middle" fill="#000">8</text>
<line x1="544.25" y1="262.00" x2="544.25" y2="266.00" stroke="#000" stroke-opacity="0.12" stroke-width="1.5"/>
<text x="544.25" y="284.70" font-size="12" text-anchor="middle" fill="#000">12</text>
<line x1="589.33" y1="262.00" x2="589.33" y2="266.00" stroke="#000" stroke-opacity="0.12" stroke-width="1.5"/>
<text x="589.33" y="284.70" font-size="12" text-anchor="middle" fill="#000">16</text>
<line x1="634.42" y1="262.00" x2="634.42" y2="266.00" stroke="#000" stroke-opacity="0.12" stroke-width="1.5"/>
<text x="634.42" y="284.70" font-size="12" text-anchor="middle" fill="#000">20</text>
<line x1="679.50" y1="262.00" x2="679.50" y2="266.00" stroke="#000" stroke-opacity="0.12" stroke-width="1.5"/>
<text x="679.50" y="284.70" font-size="12" text-anchor="middle" fill="#000">24</text>
<line x1="46.00" y1="445.63" x2="316.50" y2="445.63" stroke="#dedede" stroke-width="1.7"/>
<line x1="46.00" y1="483.87" x2="316.50" y2="483.87" stroke="#dedede" stroke-width="1.7"/>
<line x1="46.00" y1="522.10" x2="316.50" y2="522.10" stroke="#dedede" stroke-width="1.7"/>
<line x1="46.00" y1="560.33" x2="316.50" y2="560.33" stroke="#dedede" stroke-width="1.7"/>
<line x1="46.00" y1="598.57" x2="316.50" y2="598.57" stroke="#dedede" stroke-width="1.7"/>
<line x1="91.08" y1="407.40" x2="91.08" y2="636.80" stroke="#dedede" stroke-width="1.7"/>
<line x1="136.17" y1="407.40" x2="136.17" y2="636.80" stroke="#dedede" stroke-width="1.7"/>
<line x1="181.25" y1="407.40" x2="181.25" y2="636.80" stroke="#dedede" stroke-width="1.7"/>
<line x1="226.33" y1="407.40" x2="226.33" y2="636.80" stroke="#dedede" stroke-width="1.7"/>
<line x1="271.42" y1="407.40" x2="271.42" y2="636.80" stroke="#dedede" stroke-width="1.7"/>
<path d="M46.00,407.40 H316.50" fill="none" stroke="#c0c0c0" stroke-width="2.8"/>
<path d="M316.50,406.00 V636.80" fill="none" stroke="#d0d0d0" stroke-width="2.8"/>
<path d="M46.0,519.0 47.1,517.6 48.3,516.2 49.4,514.9 50.5,513.6 51.6,512.4 52.8,511.2 53.9,510.0 55.0,508.8 56.1,507.7 57.3,506.6 58.4,505.6 59.5,504.5 60.7,503.6 61.8,502.6 62.9,501.7 64.0,500.8 65.2,499.9 66.3,499.1 67.4,498.3 68.5,497.6 69.7,496.8 70.8,496.1 71.9,495.5 73.0,494.9 74.2,494.3 75.3,493.7 76.4,493.2 77.6,492.7 78.7,492.2 79.8,491.8 80.9,491.3 82.1,491.0 83.2,490.6 84.3,490.3 85.4,490.1 86.6,489.8 87.7,489.6 88.8,489.4 90.0,489.3 91.1,489.2 92.2,489.1 93.3,489.1 94.5,489.1 95.6,489.2 96.7,489.3 97.8,489.4 99.0,489.6 100.1,489.8 101.2,490.1 102.4,490.4 103.5,490.8 104.6,491.3 105.7,491.7 106.9,492.3 108.0,492.8 109.1,493.5 110.2,494.2 111.4,494.9 112.5,495.7 113.6,496.6 114.8,497.5 115.9,498.5 117.0,499.6 118.1,500.7 119.3,501.9 120.4,503.2 121.5,504.5 122.6,505.9 123.8,507.5 124.9,509.0 126.0,510.7 127.2,512.4 128.3,514.2 129.4,516.0 130.5,517.9 131.7,519.8 132.8,521.8 133.9,523.9 135.0,525.9 136.2,528.1 137.3,530.2 138.4,532.4 139.5,534.7 140.7,536.9 141.8,539.2 142.9,541.5 144.1,543.8 145.2,546.2 146.3,548.5 147.4,550.9 148.6,553.2 149.7,555.6 150.8,558.0 151.9,560.3 153.1,562.7 154.2,565.0 155.3,567.2 156.5,569.4 157.6,571.6 158.7,573.7 159.8,575.7 161.0,577.7 162.1,579.7 163.2,581.6 164.3,583.6 165.5,585.6 166.6,587.6 167.7,589.6 168.9,591.6 170.0,593.6 171.1,595.7 172.2,597.7 173.4,599.7 174.5,601.7 175.6,603.7 176.7,605.5 177.9,607.3 179.0,609.0 180.1,610.5 181.2,611.9 182.4,613.2 183.5,614.3 184.6,615.2 185.8,616.0 186.9,616.7 188.0,617.3 189.1,617.8 190.3,618.2 191.4,618.5 192.5,618.8 193.6,619.1 194.8,619.3 195.9,619.5 197.0,619.7 198.2,619.8 199.3,620.1 200.4,620.3 201.5,620.5 202.7,620.7 203.8,620.9 204.9,621.2 206.0,621.4 207.2,621.6 208.3,621.8 209.4,622.0 210.6,622.2 211.7,622.4 212.8,622.6 213.9,622.8 215.1,623.0 216.2,623.2 217.3,623.3 218.4,623.5 219.6,623.6 220.7,623.8 221.8,623.9 223.0,624.1 224.1,624.2 225.2,624.3 226.3,624.4 227.5,624.5 228.6,624.6 229.7,624.7 230.8,624.8 232.0,624.9 233.1,625.0 234.2,625.0 235.4,625.1 236.5,625.1 237.6,625.2 238.7,625.2 239.9,625.3 241.0,625.3 242.1,625.3 243.2,625.3 244.4,625.3 245.5,625.3 246.6,625.3 247.7,625.2 248.9,625.2 250.0,625.1 251.1,625.1 252.3,625.0 253.4,624.9 254.5,624.7 255.6,624.6 256.8,624.4 257.9,624.2 259.0,624.0 260.1,623.8 261.3,623.5 262.4,623.2 263.5,622.9 264.7,622.6 265.8,622.1 266.9,621.6 268.0,621.0 269.2,620.3 270.3,619.4 271.4,618.2 272.5,616.9 273.7,615.4 274.8,613.7 275.9,611.8 277.1,609.7 278.2,607.3 279.3,604.8 280.4,602.0 281.6,599.0 282.7,595.8 283.8,592.5 284.9,589.1 286.1,585.6 287.2,582.0 288.3,578.5 289.5,575.0 290.6,571.6 291.7,568.3 292.8,565.0 294.0,562.0 295.1,559.0 296.2,556.1 297.3,553.3 298.5,550.7 299.6,548.2 300.7,545.7 301.8,543.4 303.0,541.2 304.1,539.1 305.2,537.2 306.4,535.3 307.5,533.4 308.6,531.6 309.7,529.9 310.9,528.2 312.0,526.4 313.1,524.6 314.2,522.8 315.4,520.9 316.5,519.0" fill="none" stroke="#4A7EBB" stroke-width="2.5" stroke-linejoin="round" stroke-linecap="butt"/>
<path d="M46.0,512.9 47.1,510.2 48.3,507.7 49.4,505.4 50.5,503.3 51.6,501.4 52.8,499.7 53.9,498.2 55.0,496.7 56.1,495.4 57.3,494.1 58.4,492.8 59.5,491.7 60.7,490.5 61.8,489.3 62.9,488.2 64.0,487.1 65.2,486.0 66.3,484.9 67.4,483.9 68.5,482.9 69.7,481.9 70.8,481.0 71.9,480.1 73.0,479.2 74.2,478.4 75.3,477.7 76.4,477.0 77.6,476.3 78.7,475.8 79.8,475.2 80.9,474.7 82.1,474.3 83.2,473.9 84.3,473.5 85.4,473.2 86.6,473.0 87.7,472.8 88.8,472.6 90.0,472.5 91.1,472.4 92.2,472.4 93.3,472.4 94.5,472.4 95.6,472.5 96.7,472.6 97.8,472.7 99.0,472.9 100.1,473.1 101.2,473.4 102.4,473.7 103.5,474.0 104.6,474.3 105.7,474.7 106.9,475.2 108.0,475.6 109.1,476.2 110.2,476.7 111.4,477.4 112.5,478.1 113.6,478.8 114.8,479.7 115.9,480.6 117.0,481.5 118.1,482.6 119.3,483.7 120.4,484.9 121.5,486.2 122.6,487.6 123.8,489.1 124.9,490.7 126.0,492.4 127.2,494.2 128.3,496.1 129.4,498.2 130.5,500.3 131.7,502.6 132.8,504.9 133.9,507.3 135.0,509.6 136.2,512.0 137.3,514.2 138.4,516.4 139.5,518.5 140.7,520.6 141.8,522.7 142.9,524.7 144.1,526.7 145.2,528.7 146.3,530.6 147.4,532.6 148.6,534.6 149.7,536.6 150.8,538.6 151.9,540.7 153.1,542.8 154.2,544.9 155.3,547.1 156.5,549.3 157.6,551.5 158.7,553.8 159.8,556.2 161.0,558.6 162.1,561.1 163.2,563.6 164.3,566.0 165.5,568.5 166.6,570.7 167.7,572.9 168.9,574.9 170.0,576.8 171.1,578.5 172.2,580.1 173.4,581.5 174.5,582.8 175.6,584.0 176.7,585.0 177.9,585.9 179.0,586.7 180.1,587.4 181.2,588.0 182.4,588.5 183.5,588.9 184.6,589.2 185.8,589.5 186.9,589.7 188.0,589.8 189.1,590.0 190.3,590.1 191.4,590.2 192.5,590.3 193.6,590.4 194.8,590.6 195.9,590.7 197.0,590.8 198.2,591.0 199.3,591.1 200.4,591.3 201.5,591.5 202.7,591.7 203.8,591.8 204.9,592.0 206.0,592.2 207.2,592.4 208.3,592.5 209.4,592.7 210.6,592.9 211.7,593.1 212.8,593.2 213.9,593.4 215.1,593.6 216.2,593.7 217.3,593.9 218.4,594.0 219.6,594.2 220.7,594.3 221.8,594.5 223.0,594.6 224.1,594.8 225.2,594.9 226.3,595.0 227.5,595.2 228.6,595.3 229.7,595.4 230.8,595.5 232.0,595.6 233.1,595.7 234.2,595.8 235.4,595.9 236.5,596.0 237.6,596.0 238.7,596.1 239.9,596.2 241.0,596.2 242.1,596.2 243.2,596.3 244.4,596.3 245.5,596.3 246.6,596.4 247.7,596.4 248.9,596.4 250.0,596.4 251.1,596.4 252.3,596.4 253.4,596.3 254.5,596.3 255.6,596.3 256.8,596.3 257.9,596.3 259.0,596.2 260.1,596.2 261.3,596.2 262.4,596.1 263.5,596.1 264.7,596.1 265.8,596.0 266.9,596.0 268.0,595.9 269.2,595.9 270.3,595.8 271.4,595.7 272.5,595.6 273.7,595.4 274.8,595.2 275.9,594.9 277.1,594.5 278.2,594.0 279.3,593.5 280.4,592.9 281.6,592.3 282.7,591.6 283.8,590.8 284.9,590.0 286.1,589.1 287.2,588.1 288.3,587.0 289.5,585.7 290.6,584.2 291.7,582.5 292.8,580.5 294.0,578.2 295.1,575.5 296.2,572.4 297.3,569.0 298.5,565.2 299.6,561.1 300.7,556.9 301.8,552.8 303.0,548.8 304.1,545.1 305.2,541.6 306.4,538.5 307.5,535.6 308.6,532.7 309.7,529.9 310.9,526.9 312.0,523.9 313.1,521.0 314.2,518.2 315.4,515.6 316.5,513.3" fill="none" stroke="#BE4B48" stroke-width="2.5" stroke-linejoin="round" stroke-linecap="butt"/>
<path d="M46.0,544.3 47.1,540.5 48.3,536.9 49.4,533.3 50.5,529.8 51.6,526.2 52.8,522.4 53.9,518.5 55.0,514.5 56.1,510.5 57.3,506.5 58.4,502.6 59.5,499.0 60.7,495.6 61.8,492.5 62.9,489.7 64.0,487.1 65.2,484.9 66.3,483.0 67.4,481.4 68.5,479.9 69.7,478.4 70.8,477.0 71.9,475.6 73.0,474.3 74.2,473.0 75.3,471.8 76.4,470.6 77.6,469.4 78.7,468.3 79.8,467.3 80.9,466.3 82.1,465.3 83.2,464.4 84.3,463.5 85.4,462.7 86.6,461.9 87.7,461.2 88.8,460.5 90.0,459.9 91.1,459.3 92.2,458.8 93.3,458.3 94.5,458.0 95.6,457.6 96.7,457.4 97.8,457.2 99.0,457.0 100.1,457.0 101.2,457.0 102.4,457.1 103.5,457.3 104.6,457.5 105.7,457.8 106.9,458.2 108.0,458.7 109.1,459.3 110.2,459.9 111.4,460.6 112.5,461.4 113.6,462.3 114.8,463.3 115.9,464.3 117.0,465.4 118.1,466.5 119.3,467.8 120.4,469.0 121.5,470.4 122.6,471.8 123.8,473.2 124.9,474.7 126.0,476.3 127.2,477.9 128.3,479.6 129.4,481.3 130.5,483.1 131.7,484.9 132.8,486.8 133.9,488.7 135.0,490.7 136.2,492.7 137.3,494.8 138.4,497.0 139.5,499.2 140.7,501.4 141.8,503.8 142.9,506.1 144.1,508.5 145.2,510.9 146.3,513.3 147.4,515.8 148.6,518.2 149.7,520.7 150.8,523.1 151.9,525.5 153.1,527.9 154.2,530.3 155.3,532.6 156.5,534.9 157.6,537.2 158.7,539.3 159.8,541.4 161.0,543.4 162.1,545.3 163.2,547.1 164.3,548.7 165.5,550.2 166.6,551.5 167.7,552.6 168.9,553.6 170.0,554.4 171.1,555.1 172.2,555.6 173.4,556.1 174.5,556.4 175.6,556.7 176.7,556.9 177.9,557.0 179.0,557.1 180.1,557.2 181.2,557.2 182.4,557.3 183.5,557.3 184.6,557.4 185.8,557.4 186.9,557.4 188.0,557.5 189.1,557.5 190.3,557.6 191.4,557.6 192.5,557.7 193.6,557.7 194.8,557.8 195.9,557.8 197.0,557.9 198.2,558.0 199.3,558.0 200.4,558.1 201.5,558.2 202.7,558.3 203.8,558.4 204.9,558.6 206.0,558.7 207.2,558.8 208.3,559.0 209.4,559.2 210.6,559.4 211.7,559.6 212.8,559.8 213.9,560.0 215.1,560.3 216.2,560.5 217.3,560.8 218.4,561.1 219.6,561.4 220.7,561.6 221.8,561.9 223.0,562.2 224.1,562.5 225.2,562.7 226.3,563.0 227.5,563.2 228.6,563.4 229.7,563.6 230.8,563.7 232.0,563.9 233.1,564.0 234.2,564.0 235.4,564.1 236.5,564.1 237.6,564.2 238.7,564.2 239.9,564.2 241.0,564.1 242.1,564.1 243.2,564.0 244.4,564.0 245.5,563.9 246.6,563.8 247.7,563.7 248.9,563.6 250.0,563.5 251.1,563.4 252.3,563.3 253.4,563.1 254.5,563.0 255.6,562.9 256.8,562.8 257.9,562.6 259.0,562.5 260.1,562.4 261.3,562.3 262.4,562.2 263.5,562.0 264.7,561.9 265.8,561.8 266.9,561.8 268.0,561.7 269.2,561.6 270.3,561.5 271.4,561.5 272.5,561.4 273.7,561.4 274.8,561.3 275.9,561.2 277.1,561.2 278.2,561.2 279.3,561.1 280.4,561.1 281.6,561.0 282.7,561.0 283.8,561.0 284.9,560.9 286.1,560.9 287.2,560.9 288.3,560.8 289.5,560.8 290.6,560.7 291.7,560.7 292.8,560.6 294.0,560.5 295.1,560.4 296.2,560.3 297.3,560.2 298.5,560.1 299.6,559.9 300.7,559.7 301.8,559.4 303.0,559.1 304.1,558.8 305.2,558.4 306.4,558.0 307.5,557.3 308.6,556.5 309.7,555.5 310.9,554.2 312.0,552.7 313.1,551.0 314.2,549.0 315.4,546.9 316.5,544.7" fill="none" stroke="#98B954" stroke-width="2.5" stroke-linejoin="round" stroke-linecap="butt"/>
<path d="M46.0,522.7 47.1,522.5 48.3,522.3 49.4,522.1 50.5,521.9 51.6,521.7 52.8,521.4 53.9,521.0 55.0,520.6 56.1,520.0 57.3,519.2 58.4,518.4 59.5,517.3 60.7,516.0 61.8,514.5 62.9,512.7 64.0,510.8 65.2,508.5 66.3,506.0 67.4,503.3 68.5,500.3 69.7,497.1 70.8,493.7 71.9,490.4 73.0,487.1 74.2,483.9 75.3,480.8 76.4,477.6 77.6,474.6 78.7,471.6 79.8,468.8 80.9,466.2 82.1,463.9 83.2,461.7 84.3,459.7 85.4,457.8 86.6,456.1 87.7,454.5 88.8,453.1 90.0,451.8 91.1,450.6 92.2,449.6 93.3,448.6 94.5,447.8 95.6,447.1 96.7,446.5 97.8,446.0 99.0,445.6 100.1,445.3 101.2,445.1 102.4,444.9 103.5,444.9 104.6,444.9 105.7,445.0 106.9,445.2 108.0,445.5 109.1,445.8 110.2,446.2 111.4,446.7 112.5,447.3 113.6,447.9 114.8,448.6 115.9,449.4 117.0,450.2 118.1,451.2 119.3,452.2 120.4,453.2 121.5,454.4 122.6,455.6 123.8,456.9 124.9,458.3 126.0,459.7 127.2,461.2 128.3,462.8 129.4,464.4 130.5,466.1 131.7,467.9 132.8,469.6 133.9,471.5 135.0,473.4 136.2,475.3 137.3,477.3 138.4,479.3 139.5,481.3 140.7,483.4 141.8,485.5 142.9,487.6 144.1,489.7 145.2,491.9 146.3,494.1 147.4,496.4 148.6,498.8 149.7,501.2 150.8,503.7 151.9,506.0 153.1,508.2 154.2,510.1 155.3,511.8 156.5,513.2 157.6,514.5 158.7,515.6 159.8,516.5 161.0,517.3 162.1,517.9 163.2,518.5 164.3,518.9 165.5,519.2 166.6,519.4 167.7,519.6 168.9,519.8 170.0,519.9 171.1,520.0 172.2,520.1 173.4,520.1 174.5,520.2 175.6,520.2 176.7,520.2 177.9,520.2 179.0,520.2 180.1,520.2 181.2,520.2 182.4,520.2 183.5,520.3 184.6,520.3 185.8,520.3 186.9,520.4 188.0,520.4 189.1,520.5 190.3,520.6 191.4,520.7 192.5,520.9 193.6,521.0 194.8,521.2 195.9,521.5 197.0,521.7 198.2,522.0 199.3,522.4 200.4,522.7 201.5,523.2 202.7,523.6 203.8,524.1 204.9,524.7 206.0,525.2 207.2,525.8 208.3,526.4 209.4,527.1 210.6,527.8 211.7,528.5 212.8,529.2 213.9,529.9 215.1,530.6 216.2,531.4 217.3,532.2 218.4,533.0 219.6,533.8 220.7,534.6 221.8,535.4 223.0,536.2 224.1,537.0 225.2,537.9 226.3,538.7 227.5,539.7 228.6,540.6 229.7,541.6 230.8,542.6 232.0,543.7 233.1,544.9 234.2,546.0 235.4,547.2 236.5,548.4 237.6,549.6 238.7,550.7 239.9,551.8 241.0,552.9 242.1,553.8 243.2,554.7 244.4,555.4 245.5,556.1 246.6,556.5 247.7,556.9 248.9,557.0 250.0,557.0 251.1,556.8 252.3,556.4 253.4,555.8 254.5,555.1 255.6,554.3 256.8,553.4 257.9,552.3 259.0,551.2 260.1,550.0 261.3,548.8 262.4,547.5 263.5,546.2 264.7,544.9 265.8,543.6 266.9,542.3 268.0,541.1 269.2,539.9 270.3,538.7 271.4,537.6 272.5,536.6 273.7,535.7 274.8,534.8 275.9,533.9 277.1,533.2 278.2,532.4 279.3,531.8 280.4,531.1 281.6,530.6 282.7,530.0 283.8,529.5 284.9,529.1 286.1,528.6 287.2,528.3 288.3,527.9 289.5,527.6 290.6,527.3 291.7,527.0 292.8,526.8 294.0,526.5 295.1,526.3 296.2,526.1 297.3,525.9 298.5,525.8 299.6,525.6 300.7,525.5 301.8,525.3 303.0,525.2 304.1,525.0 305.2,524.9 306.4,524.7 307.5,524.5 308.6,524.4 309.7,524.2 310.9,524.0 312.0,523.8 313.1,523.5 314.2,523.3 315.4,523.0 316.5,522.7" fill="none" stroke="#7D60A0" stroke-width="2.5" stroke-linejoin="round" stroke-linecap="butt"/>
<path d="M46.00,407.40 V636.80 H316.50" fill="none" stroke="#a4a4a4" stroke-width="2.1"/>
<line x1="42.00" y1="407.40" x2="50.00" y2="407.40" stroke="#000" stroke-opacity="0.2" stroke-width="1"/>
<text x="35.00" y="412.70" font-size="12" text-anchor="end" fill="#000">200</text>
<line x1="42.00" y1="445.63" x2="50.00" y2="445.63" stroke="#000" stroke-opacity="0.2" stroke-width="1"/>
<text x="35.00" y="450.93" font-size="12" text-anchor="end" fill="#000">150</text>
<line x1="42.00" y1="483.87" x2="50.00" y2="483.87" stroke="#000" stroke-opacity="0.2" stroke-width="1"/>
<text x="35.00" y="489.17" font-size="12" text-anchor="end" fill="#000">100</text>
<line x1="42.00" y1="522.10" x2="50.00" y2="522.10" stroke="#000" stroke-opacity="0.2" stroke-width="1"/>
<text x="35.00" y="527.40" font-size="12" text-anchor="end" fill="#000">50</text>
<line x1="42.00" y1="560.33" x2="50.00" y2="560.33" stroke="#000" stroke-opacity="0.2" stroke-width="1"/>
<text x="35.00" y="565.63" font-size="12" text-anchor="end" fill="#000">0</text>
<line x1="42.00" y1="598.57" x2="50.00" y2="598.57" stroke="#000" stroke-opacity="0.2" stroke-width="1"/>
<text x="35.00" y="603.87" font-size="12" text-anchor="end" fill="#000">-50</text>
<line x1="42.00" y1="636.80" x2="50.00" y2="636.80" stroke="#000" stroke-opacity="0.2" stroke-width="1"/>
<text x="35.00" y="642.10" font-size="12" text-anchor="end" fill="#000">-100</text>
<line x1="46.00" y1="632.80" x2="46.00" y2="636.80" stroke="#000" stroke-opacity="0.12" stroke-width="1.5"/>
<text x="46.00" y="655.50" font-size="12" text-anchor="middle" fill="#000">0</text>
<line x1="91.08" y1="632.80" x2="91.08" y2="636.80" stroke="#000" stroke-opacity="0.12" stroke-width="1.5"/>
<text x="91.08" y="655.50" font-size="12" text-anchor="middle" fill="#000">4</text>
<line x1="136.17" y1="632.80" x2="136.17" y2="636.80" stroke="#000" stroke-opacity="0.12" stroke-width="1.5"/>
<text x="136.17" y="655.50" font-size="12" text-anchor="middle" fill="#000">8</text>
<line x1="181.25" y1="632.80" x2="181.25" y2="636.80" stroke="#000" stroke-opacity="0.12" stroke-width="1.5"/>
<text x="181.25" y="655.50" font-size="12" text-anchor="middle" fill="#000">12</text>
<line x1="226.33" y1="632.80" x2="226.33" y2="636.80" stroke="#000" stroke-opacity="0.12" stroke-width="1.5"/>
<text x="226.33" y="655.50" font-size="12" text-anchor="middle" fill="#000">16</text>
<line x1="271.42" y1="632.80" x2="271.42" y2="636.80" stroke="#000" stroke-opacity="0.12" stroke-width="1.5"/>
<text x="271.42" y="655.50" font-size="12" text-anchor="middle" fill="#000">20</text>
<line x1="316.50" y1="632.80" x2="316.50" y2="636.80" stroke="#000" stroke-opacity="0.12" stroke-width="1.5"/>
<text x="316.50" y="655.50" font-size="12" text-anchor="middle" fill="#000">24</text>
<line x1="409.00" y1="440.17" x2="679.50" y2="440.17" stroke="#dedede" stroke-width="1.7"/>
<line x1="409.00" y1="472.94" x2="679.50" y2="472.94" stroke="#dedede" stroke-width="1.7"/>
<line x1="409.00" y1="505.71" x2="679.50" y2="505.71" stroke="#dedede" stroke-width="1.7"/>
<line x1="409.00" y1="538.49" x2="679.50" y2="538.49" stroke="#dedede" stroke-width="1.7"/>
<line x1="409.00" y1="571.26" x2="679.50" y2="571.26" stroke="#dedede" stroke-width="1.7"/>
<line x1="409.00" y1="604.03" x2="679.50" y2="604.03" stroke="#dedede" stroke-width="1.7"/>
<line x1="454.08" y1="407.40" x2="454.08" y2="636.80" stroke="#dedede" stroke-width="1.7"/>
<line x1="499.17" y1="407.40" x2="499.17" y2="636.80" stroke="#dedede" stroke-width="1.7"/>
<line x1="544.25" y1="407.40" x2="544.25" y2="636.80" stroke="#dedede" stroke-width="1.7"/>
<line x1="589.33" y1="407.40" x2="589.33" y2="636.80" stroke="#dedede" stroke-width="1.7"/>
<line x1="634.42" y1="407.40" x2="634.42" y2="636.80" stroke="#dedede" stroke-width="1.7"/>
<path d="M409.00,407.40 H679.50" fill="none" stroke="#c0c0c0" stroke-width="2.8"/>
<path d="M679.50,406.00 V636.80" fill="none" stroke="#d0d0d0" stroke-width="2.8"/>
<path d="M409.0,514.3 410.1,512.9 411.3,511.5 412.4,510.1 413.5,508.8 414.6,507.4 415.8,506.1 416.9,504.9 418.0,503.6 419.1,502.4 420.3,501.2 421.4,500.0 422.5,498.9 423.7,497.7 424.8,496.7 425.9,495.6 427.0,494.6 428.2,493.6 429.3,492.6 430.4,491.7 431.5,490.8 432.7,490.0 433.8,489.2 434.9,488.4 436.1,487.6 437.2,487.0 438.3,486.3 439.4,485.7 440.6,485.1 441.7,484.6 442.8,484.1 443.9,483.7 445.1,483.3 446.2,482.9 447.3,482.6 448.4,482.3 449.6,482.1 450.7,481.9 451.8,481.8 453.0,481.7 454.1,481.7 455.2,481.7 456.3,481.7 457.5,481.8 458.6,482.0 459.7,482.2 460.8,482.4 462.0,482.7 463.1,483.0 464.2,483.4 465.4,483.8 466.5,484.3 467.6,484.9 468.7,485.4 469.9,486.1 471.0,486.7 472.1,487.5 473.2,488.2 474.4,489.1 475.5,489.9 476.6,490.9 477.8,491.9 478.9,492.9 480.0,494.0 481.1,495.1 482.3,496.3 483.4,497.5 484.5,498.8 485.6,500.2 486.8,501.6 487.9,503.0 489.0,504.5 490.1,506.1 491.3,507.7 492.4,509.4 493.5,511.1 494.7,512.9 495.8,514.8 496.9,516.7 498.0,518.7 499.2,520.8 500.3,522.9 501.4,525.1 502.5,527.3 503.7,529.5 504.8,531.7 505.9,533.9 507.1,536.2 508.2,538.4 509.3,540.7 510.4,543.0 511.6,545.3 512.7,547.6 513.8,549.9 514.9,552.2 516.1,554.6 517.2,557.0 518.3,559.3 519.5,561.7 520.6,564.1 521.7,566.5 522.8,568.9 524.0,571.3 525.1,573.6 526.2,576.0 527.3,578.3 528.5,580.6 529.6,582.9 530.7,585.1 531.9,587.3 533.0,589.5 534.1,591.7 535.2,593.8 536.4,595.9 537.5,597.9 538.6,599.9 539.7,601.9 540.9,603.8 542.0,605.7 543.1,607.4 544.2,609.1 545.4,610.7 546.5,612.2 547.6,613.6 548.8,614.8 549.9,615.9 551.0,616.9 552.1,617.8 553.3,618.5 554.4,619.1 555.5,619.7 556.6,620.2 557.8,620.6 558.9,620.9 560.0,621.2 561.2,621.4 562.3,621.6 563.4,621.8 564.5,622.0 565.7,622.2 566.8,622.3 567.9,622.5 569.0,622.7 570.2,622.9 571.3,623.2 572.4,623.4 573.6,623.6 574.7,623.9 575.8,624.1 576.9,624.3 578.1,624.5 579.2,624.7 580.3,624.9 581.4,625.1 582.6,625.2 583.7,625.3 584.8,625.5 586.0,625.5 587.1,625.6 588.2,625.7 589.3,625.8 590.5,625.8 591.6,625.9 592.7,625.9 593.8,625.9 595.0,626.0 596.1,626.0 597.2,626.0 598.4,626.0 599.5,626.0 600.6,626.0 601.7,626.0 602.9,626.0 604.0,626.0 605.1,626.0 606.2,626.0 607.4,626.0 608.5,626.0 609.6,626.0 610.7,626.0 611.9,626.1 613.0,626.1 614.1,626.1 615.3,626.1 616.4,626.0 617.5,625.9 618.6,625.8 619.8,625.6 620.9,625.3 622.0,625.0 623.1,624.6 624.3,624.0 625.4,623.4 626.5,622.6 627.7,621.7 628.8,620.7 629.9,619.5 631.0,618.2 632.2,616.7 633.3,615.0 634.4,613.2 635.5,611.1 636.7,608.9 637.8,606.4 638.9,603.7 640.1,600.9 641.2,597.9 642.3,594.8 643.4,591.7 644.6,588.5 645.7,585.2 646.8,582.0 647.9,578.8 649.1,575.6 650.2,572.5 651.3,569.5 652.5,566.5 653.6,563.6 654.7,560.8 655.8,558.0 657.0,555.3 658.1,552.7 659.2,550.1 660.3,547.6 661.5,545.2 662.6,542.9 663.7,540.7 664.8,538.5 666.0,536.3 667.1,534.3 668.2,532.3 669.4,530.3 670.5,528.4 671.6,526.6 672.7,524.7 673.9,522.9 675.0,521.2 676.1,519.5 677.2,517.8 678.4,516.1 679.5,514.4" fill="none" stroke="#4A7EBB" stroke-width="2.5" stroke-linejoin="round" stroke-linecap="butt"/>
<path d="M409.0,504.1 410.1,502.4 411.3,500.6 412.4,498.9 413.5,497.3 414.6,495.6 415.8,494.0 416.9,492.4 418.0,490.8 419.1,489.3 420.3,487.9 421.4,486.5 422.5,485.1 423.7,483.8 424.8,482.6 425.9,481.5 427.0,480.3 428.2,479.3 429.3,478.3 430.4,477.4 431.5,476.5 432.7,475.6 433.8,474.8 434.9,474.1 436.1,473.3 437.2,472.7 438.3,472.0 439.4,471.4 440.6,470.9 441.7,470.3 442.8,469.8 443.9,469.4 445.1,469.0 446.2,468.6 447.3,468.2 448.4,467.9 449.6,467.7 450.7,467.4 451.8,467.3 453.0,467.1 454.1,467.0 455.2,466.9 456.3,466.9 457.5,466.9 458.6,466.9 459.7,467.0 460.8,467.2 462.0,467.3 463.1,467.6 464.2,467.8 465.4,468.1 466.5,468.4 467.6,468.8 468.7,469.3 469.9,469.8 471.0,470.3 472.1,470.9 473.2,471.6 474.4,472.3 475.5,473.1 476.6,474.0 477.8,475.0 478.9,476.0 480.0,477.1 481.1,478.3 482.3,479.5 483.4,480.9 484.5,482.3 485.6,483.8 486.8,485.3 487.9,486.9 489.0,488.6 490.1,490.3 491.3,492.1 492.4,493.9 493.5,495.8 494.7,497.7 495.8,499.7 496.9,501.7 498.0,503.7 499.2,505.8 500.3,507.9 501.4,510.1 502.5,512.2 503.7,514.4 504.8,516.6 505.9,518.8 507.1,521.0 508.2,523.2 509.3,525.5 510.4,527.7 511.6,529.9 512.7,532.2 513.8,534.4 514.9,536.6 516.1,538.8 517.2,541.0 518.3,543.2 519.5,545.3 520.6,547.5 521.7,549.7 522.8,551.9 524.0,554.1 525.1,556.4 526.2,558.7 527.3,561.0 528.5,563.4 529.6,565.9 530.7,568.4 531.9,570.9 533.0,573.5 534.1,576.0 535.2,578.3 536.4,580.5 537.5,582.6 538.6,584.5 539.7,586.2 540.9,587.7 542.0,589.1 543.1,590.4 544.2,591.5 545.4,592.4 546.5,593.3 547.6,594.0 548.8,594.6 549.9,595.1 551.0,595.5 552.1,595.9 553.3,596.1 554.4,596.3 555.5,596.5 556.6,596.6 557.8,596.7 558.9,596.8 560.0,596.9 561.2,596.9 562.3,597.0 563.4,597.1 564.5,597.3 565.7,597.4 566.8,597.6 567.9,597.8 569.0,597.9 570.2,598.1 571.3,598.3 572.4,598.5 573.6,598.7 574.7,598.8 575.8,599.0 576.9,599.2 578.1,599.3 579.2,599.5 580.3,599.6 581.4,599.7 582.6,599.8 583.7,600.0 584.8,600.1 586.0,600.2 587.1,600.2 588.2,600.3 589.3,600.4 590.5,600.5 591.6,600.6 592.7,600.6 593.8,600.7 595.0,600.7 596.1,600.8 597.2,600.8 598.4,600.9 599.5,600.9 600.6,601.0 601.7,601.0 602.9,601.1 604.0,601.1 605.1,601.1 606.2,601.2 607.4,601.2 608.5,601.2 609.6,601.3 610.7,601.3 611.9,601.3 613.0,601.4 614.1,601.4 615.3,601.4 616.4,601.4 617.5,601.4 618.6,601.4 619.8,601.4 620.9,601.4 622.0,601.3 623.1,601.3 624.3,601.2 625.4,601.1 626.5,601.0 627.7,600.9 628.8,600.8 629.9,600.6 631.0,600.4 632.2,600.2 633.3,600.0 634.4,599.8 635.5,599.5 636.7,599.2 637.8,598.8 638.9,598.3 640.1,597.7 641.2,597.0 642.3,596.1 643.4,595.1 644.6,593.9 645.7,592.4 646.8,590.7 647.9,588.7 649.1,586.3 650.2,583.5 651.3,580.3 652.5,576.9 653.6,573.3 654.7,569.6 655.8,566.0 657.0,562.3 658.1,558.6 659.2,555.0 660.3,551.4 661.5,547.8 662.6,544.3 663.7,540.8 664.8,537.5 666.0,534.3 667.1,531.2 668.2,528.3 669.4,525.7 670.5,523.2 671.6,521.0 672.7,518.9 673.9,516.8 675.0,514.7 676.1,512.5 677.2,510.2 678.4,507.6 679.5,504.7" fill="none" stroke="#BE4B48" stroke-width="2.5" stroke-linejoin="round" stroke-linecap="butt"/>
<path d="M409.0,511.3 410.1,508.0 411.3,504.8 412.4,501.9 413.5,499.1 414.6,496.5 415.8,494.1 416.9,491.8 418.0,489.6 419.1,487.6 420.3,485.6 421.4,483.7 422.5,482.0 423.7,480.2 424.8,478.6 425.9,477.0 427.0,475.4 428.2,473.8 429.3,472.3 430.4,470.8 431.5,469.2 432.7,467.7 433.8,466.2 434.9,464.8 436.1,463.5 437.2,462.2 438.3,461.1 439.4,460.1 440.6,459.2 441.7,458.4 442.8,457.8 443.9,457.2 445.1,456.7 446.2,456.3 447.3,455.9 448.4,455.5 449.6,455.2 450.7,454.9 451.8,454.6 453.0,454.4 454.1,454.2 455.2,454.0 456.3,453.9 457.5,453.7 458.6,453.7 459.7,453.7 460.8,453.7 462.0,453.7 463.1,453.9 464.2,454.0 465.4,454.2 466.5,454.5 467.6,454.9 468.7,455.2 469.9,455.7 471.0,456.2 472.1,456.8 473.2,457.4 474.4,458.1 475.5,458.9 476.6,459.7 477.8,460.6 478.9,461.6 480.0,462.6 481.1,463.7 482.3,464.9 483.4,466.1 484.5,467.4 485.6,468.8 486.8,470.3 487.9,471.8 489.0,473.4 490.1,475.1 491.3,476.8 492.4,478.6 493.5,480.5 494.7,482.4 495.8,484.4 496.9,486.4 498.0,488.4 499.2,490.5 500.3,492.5 501.4,494.6 502.5,496.7 503.7,498.7 504.8,500.7 505.9,502.7 507.1,504.7 508.2,506.6 509.3,508.6 510.4,510.7 511.6,512.9 512.7,515.4 513.8,518.1 514.9,521.0 516.1,524.0 517.2,527.1 518.3,530.0 519.5,532.9 520.6,535.6 521.7,538.1 522.8,540.6 524.0,543.0 525.1,545.2 526.2,547.5 527.3,549.6 528.5,551.7 529.6,553.8 530.7,555.8 531.9,557.7 533.0,559.5 534.1,561.2 535.2,562.8 536.4,564.2 537.5,565.4 538.6,566.4 539.7,567.2 540.9,567.8 542.0,568.2 543.1,568.5 544.2,568.6 545.4,568.7 546.5,568.8 547.6,568.8 548.8,568.9 549.9,568.9 551.0,569.0 552.1,569.0 553.3,569.1 554.4,569.1 555.5,569.2 556.6,569.3 557.8,569.3 558.9,569.4 560.0,569.5 561.2,569.6 562.3,569.6 563.4,569.7 564.5,569.8 565.7,569.9 566.8,570.0 567.9,570.1 569.0,570.2 570.2,570.3 571.3,570.4 572.4,570.5 573.6,570.6 574.7,570.7 575.8,570.8 576.9,570.9 578.1,571.0 579.2,571.2 580.3,571.3 581.4,571.4 582.6,571.5 583.7,571.7 584.8,571.8 586.0,571.9 587.1,572.0 588.2,572.2 589.3,572.3 590.5,572.4 591.6,572.6 592.7,572.7 593.8,572.8 595.0,572.9 596.1,573.0 597.2,573.1 598.4,573.2 599.5,573.3 600.6,573.3 601.7,573.4 602.9,573.4 604.0,573.4 605.1,573.4 606.2,573.4 607.4,573.4 608.5,573.4 609.6,573.3 610.7,573.3 611.9,573.2 613.0,573.1 614.1,573.0 615.3,572.8 616.4,572.7 617.5,572.6 618.6,572.4 619.8,572.3 620.9,572.2 622.0,572.0 623.1,571.9 624.3,571.8 625.4,571.8 626.5,571.7 627.7,571.7 628.8,571.6 629.9,571.6 631.0,571.7 632.2,571.7 633.3,571.7 634.4,571.7 635.5,571.8 636.7,571.8 637.8,571.8 638.9,571.9 640.1,571.9 641.2,571.9 642.3,571.9 643.4,571.8 644.6,571.8 645.7,571.7 646.8,571.6 647.9,571.5 649.1,571.3 650.2,571.1 651.3,570.9 652.5,570.6 653.6,570.3 654.7,569.9 655.8,569.5 657.0,569.1 658.1,568.5 659.2,567.8 660.3,566.9 661.5,565.9 662.6,564.6 663.7,563.0 664.8,561.1 666.0,558.9 667.1,556.3 668.2,553.3 669.4,549.8 670.5,545.7 671.6,541.3 672.7,536.7 673.9,532.0 675.0,527.5 676.1,523.1 677.2,519.1 678.4,515.2 679.5,511.3" fill="none" stroke="#98B954" stroke-width="2.5" stroke-linejoin="round" stroke-linecap="butt"/>
<path d="M409.0,533.6 410.1,531.7 411.3,529.4 412.4,526.7 413.5,523.6 414.6,520.3 415.8,516.7 416.9,513.0 418.0,509.1 419.1,505.2 420.3,501.3 421.4,497.4 422.5,493.6 423.7,490.0 424.8,486.4 425.9,483.0 427.0,479.8 428.2,476.8 429.3,474.1 430.4,471.5 431.5,469.2 432.7,467.0 433.8,465.0 434.9,463.1 436.1,461.4 437.2,459.7 438.3,458.1 439.4,456.6 440.6,455.1 441.7,453.7 442.8,452.3 443.9,451.0 445.1,449.7 446.2,448.5 447.3,447.5 448.4,446.6 449.6,445.8 450.7,445.1 451.8,444.5 453.0,443.9 454.1,443.5 455.2,443.0 456.3,442.6 457.5,442.3 458.6,442.0 459.7,441.7 460.8,441.5 462.0,441.4 463.1,441.3 464.2,441.3 465.4,441.3 466.5,441.4 467.6,441.6 468.7,441.8 469.9,442.1 471.0,442.5 472.1,443.0 473.2,443.6 474.4,444.3 475.5,445.1 476.6,445.9 477.8,446.9 478.9,447.9 480.0,449.1 481.1,450.4 482.3,451.8 483.4,453.2 484.5,454.7 485.6,456.4 486.8,458.0 487.9,459.8 489.0,461.6 490.1,463.5 491.3,465.4 492.4,467.4 493.5,469.4 494.7,471.4 495.8,473.5 496.9,475.5 498.0,477.7 499.2,479.8 500.3,481.9 501.4,484.1 502.5,486.2 503.7,488.4 504.8,490.5 505.9,492.7 507.1,494.8 508.2,497.0 509.3,499.1 510.4,501.2 511.6,503.3 512.7,505.5 513.8,507.6 514.9,509.9 516.1,512.1 517.2,514.4 518.3,516.6 519.5,518.8 520.6,521.0 521.7,523.1 522.8,525.1 524.0,526.9 525.1,528.6 526.2,530.0 527.3,531.3 528.5,532.4 529.6,533.3 530.7,534.0 531.9,534.7 533.0,535.2 534.1,535.6 535.2,536.0 536.4,536.2 537.5,536.4 538.6,536.5 539.7,536.6 540.9,536.7 542.0,536.7 543.1,536.7 544.2,536.7 545.4,536.6 546.5,536.6 547.6,536.6 548.8,536.6 549.9,536.7 551.0,536.7 552.1,536.7 553.3,536.8 554.4,536.9 555.5,537.0 556.6,537.1 557.8,537.3 558.9,537.4 560.0,537.6 561.2,537.8 562.3,538.0 563.4,538.3 564.5,538.5 565.7,538.8 566.8,539.1 567.9,539.4 569.0,539.8 570.2,540.1 571.3,540.5 572.4,540.9 573.6,541.4 574.7,541.8 575.8,542.3 576.9,542.8 578.1,543.3 579.2,543.9 580.3,544.5 581.4,545.0 582.6,545.6 583.7,546.2 584.8,546.8 586.0,547.3 587.1,547.9 588.2,548.4 589.3,548.9 590.5,549.4 591.6,549.8 592.7,550.2 593.8,550.6 595.0,550.9 596.1,551.2 597.2,551.4 598.4,551.7 599.5,552.0 600.6,552.4 601.7,552.8 602.9,553.3 604.0,553.9 605.1,554.5 606.2,555.2 607.4,555.9 608.5,556.5 609.6,557.1 610.7,557.6 611.9,558.0 613.0,558.3 614.1,558.4 615.3,558.4 616.4,558.2 617.5,557.9 618.6,557.5 619.8,556.9 620.9,556.3 622.0,555.5 623.1,554.7 624.3,553.9 625.4,553.0 626.5,552.1 627.7,551.2 628.8,550.3 629.9,549.4 631.0,548.5 632.2,547.7 633.3,547.0 634.4,546.3 635.5,545.7 636.7,545.1 637.8,544.7 638.9,544.2 640.1,543.8 641.2,543.5 642.3,543.2 643.4,542.9 644.6,542.7 645.7,542.5 646.8,542.3 647.9,542.1 649.1,542.0 650.2,541.8 651.3,541.7 652.5,541.5 653.6,541.4 654.7,541.2 655.8,541.1 657.0,541.0 658.1,540.8 659.2,540.7 660.3,540.5 661.5,540.3 662.6,540.2 663.7,540.0 664.8,539.8 666.0,539.6 667.1,539.4 668.2,539.1 669.4,538.8 670.5,538.6 671.6,538.2 672.7,537.9 673.9,537.5 675.0,537.1 676.1,536.4 677.2,535.6 678.4,534.6 679.5,533.2" fill="none" stroke="#7D60A0" stroke-width="2.5" stroke-linejoin="round" stroke-linecap="butt"/>
<path d="M409.00,407.40 V636.80 H679.50" fill="none" stroke="#a4a4a4" stroke-width="2.1"/>
<line x1="405.00" y1="407.40" x2="413.00" y2="407.40" stroke="#000" stroke-opacity="0.2" stroke-width="1"/>
<text x="398.00" y="412.70" font-size="12" text-anchor="end" fill="#000">250</text>
<line x1="405.00" y1="440.17" x2="413.00" y2="440.17" stroke="#000" stroke-opacity="0.2" stroke-width="1"/>
<text x="398.00" y="445.47" font-size="12" text-anchor="end" fill="#000">200</text>
<line x1="405.00" y1="472.94" x2="413.00" y2="472.94" stroke="#000" stroke-opacity="0.2" stroke-width="1"/>
<text x="398.00" y="478.24" font-size="12" text-anchor="end" fill="#000">150</text>
<line x1="405.00" y1="505.71" x2="413.00" y2="505.71" stroke="#000" stroke-opacity="0.2" stroke-width="1"/>
<text x="398.00" y="511.01" font-size="12" text-anchor="end" fill="#000">100</text>
<line x1="405.00" y1="538.49" x2="413.00" y2="538.49" stroke="#000" stroke-opacity="0.2" stroke-width="1"/>
<text x="398.00" y="543.79" font-size="12" text-anchor="end" fill="#000">50</text>
<line x1="405.00" y1="571.26" x2="413.00" y2="571.26" stroke="#000" stroke-opacity="0.2" stroke-width="1"/>
<text x="398.00" y="576.56" font-size="12" text-anchor="end" fill="#000">0</text>
<line x1="405.00" y1="604.03" x2="413.00" y2="604.03" stroke="#000" stroke-opacity="0.2" stroke-width="1"/>
<text x="398.00" y="609.33" font-size="12" text-anchor="end" fill="#000">-50</text>
<line x1="405.00" y1="636.80" x2="413.00" y2="636.80" stroke="#000" stroke-opacity="0.2" stroke-width="1"/>
<text x="398.00" y="642.10" font-size="12" text-anchor="end" fill="#000">-100</text>
<line x1="409.00" y1="632.80" x2="409.00" y2="636.80" stroke="#000" stroke-opacity="0.12" stroke-width="1.5"/>
<text x="409.00" y="655.50" font-size="12" text-anchor="middle" fill="#000">0</text>
<line x1="454.08" y1="632.80" x2="454.08" y2="636.80" stroke="#000" stroke-opacity="0.12" stroke-width="1.5"/>
<text x="454.08" y="655.50" font-size="12" text-anchor="middle" fill="#000">4</text>
<line x1="499.17" y1="632.80" x2="499.17" y2="636.80" stroke="#000" stroke-opacity="0.12" stroke-width="1.5"/>
<text x="499.17" y="655.50" font-size="12" text-anchor="middle" fill="#000">8</text>
<line x1="544.25" y1="632.80" x2="544.25" y2="636.80" stroke="#000" stroke-opacity="0.12" stroke-width="1.5"/>
<text x="544.25" y="655.50" font-size="12" text-anchor="middle" fill="#000">12</text>
<line x1="589.33" y1="632.80" x2="589.33" y2="636.80" stroke="#000" stroke-opacity="0.12" stroke-width="1.5"/>
<text x="589.33" y="655.50" font-size="12" text-anchor="middle" fill="#000">16</text>
<line x1="634.42" y1="632.80" x2="634.42" y2="636.80" stroke="#000" stroke-opacity="0.12" stroke-width="1.5"/>
<text x="634.42" y="655.50" font-size="12" text-anchor="middle" fill="#000">20</text>
<line x1="679.50" y1="632.80" x2="679.50" y2="636.80" stroke="#000" stroke-opacity="0.12" stroke-width="1.5"/>
<text x="679.50" y="655.50" font-size="12" text-anchor="middle" fill="#000">24</text>
<line x1="67.00" y1="5.10" x2="97.00" y2="5.10" stroke="#4A7EBB" stroke-width="2.6" stroke-linecap="round"/>
<text x="100.40" y="9.00" font-size="12.6" fill="#000">P = 0 W/m²</text>
<line x1="192.00" y1="5.10" x2="221.50" y2="5.10" stroke="#BE4B48" stroke-width="2.6" stroke-linecap="round"/>
<text x="225.40" y="9.00" font-size="12.6" fill="#000">P = 100 W/m²</text>
<line x1="67.00" y1="23.60" x2="97.00" y2="23.60" stroke="#98B954" stroke-width="2.6" stroke-linecap="round"/>
<text x="100.40" y="27.40" font-size="12.6" fill="#000">P =200 W/m²</text>
<line x1="192.00" y1="23.60" x2="221.50" y2="23.60" stroke="#7D60A0" stroke-width="2.6" stroke-linecap="round"/>
<text x="225.40" y="27.40" font-size="12.6" fill="#000">P = 300 W/m²</text>
<line x1="430.00" y1="5.10" x2="460.00" y2="5.10" stroke="#4A7EBB" stroke-width="2.6" stroke-linecap="round"/>
<text x="463.40" y="9.00" font-size="12.6" fill="#000">P = 0 W/m²</text>
<line x1="555.00" y1="5.10" x2="584.50" y2="5.10" stroke="#BE4B48" stroke-width="2.6" stroke-linecap="round"/>
<text x="588.40" y="9.00" font-size="12.6" fill="#000">P = 100 W/m²</text>
<line x1="430.00" y1="23.60" x2="460.00" y2="23.60" stroke="#98B954" stroke-width="2.6" stroke-linecap="round"/>
<text x="463.40" y="27.40" font-size="12.6" fill="#000">P =200 W/m²</text>
<line x1="555.00" y1="23.60" x2="584.50" y2="23.60" stroke="#7D60A0" stroke-width="2.6" stroke-linecap="round"/>
<text x="588.40" y="27.40" font-size="12.6" fill="#000">P = 300 W/m²</text>
<line x1="67.00" y1="376.10" x2="97.00" y2="376.10" stroke="#4A7EBB" stroke-width="2.6" stroke-linecap="round"/>
<text x="100.40" y="380.00" font-size="12.6" fill="#000">P = 0 W/m²</text>
<line x1="192.00" y1="376.10" x2="221.50" y2="376.10" stroke="#BE4B48" stroke-width="2.6" stroke-linecap="round"/>
<text x="225.40" y="380.00" font-size="12.6" fill="#000">P = 100 W/m²</text>
<line x1="67.00" y1="394.60" x2="97.00" y2="394.60" stroke="#98B954" stroke-width="2.6" stroke-linecap="round"/>
<text x="100.40" y="398.40" font-size="12.6" fill="#000">P =200 W/m²</text>
<line x1="192.00" y1="394.60" x2="221.50" y2="394.60" stroke="#7D60A0" stroke-width="2.6" stroke-linecap="round"/>
<text x="225.40" y="398.40" font-size="12.6" fill="#000">P = 300 W/m²</text>
<line x1="430.00" y1="376.10" x2="460.00" y2="376.10" stroke="#4A7EBB" stroke-width="2.6" stroke-linecap="round"/>
<text x="463.40" y="380.00" font-size="12.6" fill="#000">P = 0 W/m²</text>
<line x1="555.00" y1="376.10" x2="584.50" y2="376.10" stroke="#BE4B48" stroke-width="2.6" stroke-linecap="round"/>
<text x="588.40" y="380.00" font-size="12.6" fill="#000">P = 100 W/m²</text>
<line x1="430.00" y1="394.60" x2="460.00" y2="394.60" stroke="#98B954" stroke-width="2.6" stroke-linecap="round"/>
<text x="463.40" y="398.40" font-size="12.6" fill="#000">P =200 W/m²</text>
<line x1="555.00" y1="394.60" x2="584.50" y2="394.60" stroke="#7D60A0" stroke-width="2.6" stroke-linecap="round"/>
<text x="588.40" y="398.40" font-size="12.6" fill="#000">P = 300 W/m²</text>
<text transform="translate(10.00,157.60) rotate(-90)" font-size="12" text-anchor="middle" fill="#000">q<tspan font-size="8" dy="2">ls</tspan><tspan dy="-2" dx="2"> (W/m</tspan><tspan font-size="8" dy="-4.5">2</tspan><tspan dy="4.5">)</tspan></text>
<text transform="translate(373.00,157.60) rotate(-90)" font-size="12" text-anchor="middle" fill="#000">q<tspan font-size="8" dy="2">ls</tspan><tspan dy="-2" dx="2"> (W/m</tspan><tspan font-size="8" dy="-4.5">2</tspan><tspan dy="4.5">)</tspan></text>
<text transform="translate(10.00,528.60) rotate(-90)" font-size="12" text-anchor="middle" fill="#000">q<tspan font-size="8" dy="2">ls</tspan><tspan dy="-2" dx="2"> (W/m</tspan><tspan font-size="8" dy="-4.5">2</tspan><tspan dy="4.5">)</tspan></text>
<text transform="translate(373.00,528.60) rotate(-90)" font-size="12" text-anchor="middle" fill="#000">q<tspan font-size="8" dy="2">ls</tspan><tspan dy="-2" dx="2"> (W/m</tspan><tspan font-size="8" dy="-4.5">2</tspan><tspan dy="4.5">)</tspan></text>
<text x="169.80" y="299.20" font-size="12.4" text-anchor="middle" fill="#000">Time (h)</text>
<text x="532.60" y="299.20" font-size="12.4" text-anchor="middle" fill="#000">Time (h)</text>
<text x="169.50" y="670.50" font-size="12.4" text-anchor="middle" fill="#000">Time (h)</text>
<text x="532.60" y="670.50" font-size="12.4" text-anchor="middle" fill="#000">Time (h)</text>
<text y="334.60" font-size="19" fill="#000"><tspan x="118.80">(a)</tspan><tspan x="147.50">T</tspan><tspan x="158.90" font-size="12.5" dy="2.2">min</tspan><tspan x="182.20" dy="-2.2">= 0 °C</tspan></text>
<text y="334.60" font-size="19" fill="#000"><tspan x="474.10">(b)</tspan><tspan x="502.90">T</tspan><tspan x="514.20" font-size="12.5" dy="2.2">min</tspan><tspan x="538.00" dy="-2.2">= -10 °C</tspan></text>
<text y="705.00" font-size="19" fill="#000"><tspan x="98.60">(c)</tspan><tspan x="124.80">T</tspan><tspan x="135.60" font-size="12.5" dy="2.2">min</tspan><tspan x="159.30" dy="-2.2">= -20 °C</tspan></text>
<text y="705.00" font-size="19" fill="#000"><tspan x="461.20">(d)</tspan><tspan x="488.40">T</tspan><tspan x="499.20" font-size="12.5" dy="2.2">min</tspan><tspan x="523.50" dy="-2.2">= -30 °C</tspan></text>
</svg></body></html>
